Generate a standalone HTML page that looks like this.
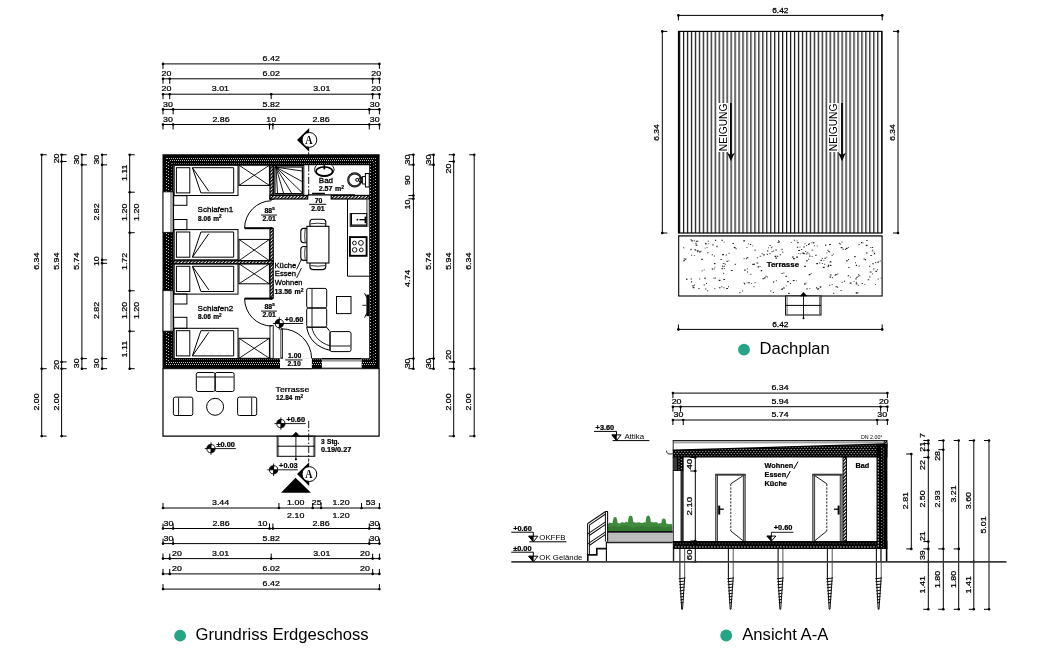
<!DOCTYPE html>
<html lang="de"><head><meta charset="utf-8"><title>Grundriss</title>
<style>
html,body{margin:0;padding:0;background:#fff;}
body{width:1038px;height:648px;overflow:hidden;}
svg{display:block;will-change:transform;}
svg text{font-family:"Liberation Sans",sans-serif;fill:#000;}
svg text.t{font-family:"Liberation Sans",sans-serif;fill:#111;}
svg text.s{font-family:"Liberation Serif",serif;}
</style></head><body>
<svg width="1038" height="648" viewBox="0 0 1038 648">
<defs>
<pattern id="hatch" width="2.4" height="2.4" patternUnits="userSpaceOnUse" patternTransform="rotate(-45)"><rect width="2.4" height="2.4" fill="#fff"/><rect width="2.4" height="1.3" fill="#000"/></pattern>
<pattern id="roof" x="678.98" width="3.964" height="10" patternUnits="userSpaceOnUse"><rect width="3.964" height="10" fill="#fff"/><rect x="0" width="1.25" height="10" fill="#151515"/></pattern>
</defs>
<rect width="1038" height="648" fill="#fff"/>
<g id="grundriss">
<line x1="163" y1="63.9" x2="379.4" y2="63.9" stroke="#000" stroke-width="1" />
<line x1="163" y1="63" x2="163" y2="68.9" stroke="#000" stroke-width="1" />
<circle cx="163" cy="63.9" r="1.3"/>
<line x1="379.4" y1="63" x2="379.4" y2="68.9" stroke="#000" stroke-width="1" />
<circle cx="379.4" cy="63.9" r="1.3"/>
<text transform="translate(271.2 61.1) scale(1.12 1)" font-size="7.9" text-anchor="middle" stroke="#000" stroke-width="0.25" >6.42</text>
<line x1="163" y1="78.8" x2="379.4" y2="78.8" stroke="#000" stroke-width="1" />
<line x1="163" y1="77.9" x2="163" y2="83.8" stroke="#000" stroke-width="1" />
<circle cx="163" cy="78.8" r="1.3"/>
<line x1="169.74" y1="77.9" x2="169.74" y2="83.8" stroke="#000" stroke-width="1" />
<circle cx="169.74" cy="78.8" r="1.3"/>
<line x1="372.66" y1="77.9" x2="372.66" y2="83.8" stroke="#000" stroke-width="1" />
<circle cx="372.66" cy="78.8" r="1.3"/>
<line x1="379.4" y1="77.9" x2="379.4" y2="83.8" stroke="#000" stroke-width="1" />
<circle cx="379.4" cy="78.8" r="1.3"/>
<text transform="translate(166.4 76) scale(1.12 1)" font-size="7.9" text-anchor="middle" stroke="#000" stroke-width="0.25" >20</text>
<text transform="translate(271.2 76) scale(1.12 1)" font-size="7.9" text-anchor="middle" stroke="#000" stroke-width="0.25" >6.02</text>
<text transform="translate(376.2 76) scale(1.12 1)" font-size="7.9" text-anchor="middle" stroke="#000" stroke-width="0.25" >20</text>
<line x1="163" y1="94.2" x2="379.4" y2="94.2" stroke="#000" stroke-width="1" />
<line x1="163" y1="93.3" x2="163" y2="99.2" stroke="#000" stroke-width="1" />
<circle cx="163" cy="94.2" r="1.3"/>
<line x1="169.74" y1="93.3" x2="169.74" y2="99.2" stroke="#000" stroke-width="1" />
<circle cx="169.74" cy="94.2" r="1.3"/>
<line x1="271.2" y1="93.3" x2="271.2" y2="99.2" stroke="#000" stroke-width="1" />
<circle cx="271.2" cy="94.2" r="1.3"/>
<line x1="372.66" y1="93.3" x2="372.66" y2="99.2" stroke="#000" stroke-width="1" />
<circle cx="372.66" cy="94.2" r="1.3"/>
<line x1="379.4" y1="93.3" x2="379.4" y2="99.2" stroke="#000" stroke-width="1" />
<circle cx="379.4" cy="94.2" r="1.3"/>
<text transform="translate(166.4 91.4) scale(1.12 1)" font-size="7.9" text-anchor="middle" stroke="#000" stroke-width="0.25" >20</text>
<text transform="translate(220.4 91.4) scale(1.12 1)" font-size="7.9" text-anchor="middle" stroke="#000" stroke-width="0.25" >3.01</text>
<text transform="translate(321.8 91.4) scale(1.12 1)" font-size="7.9" text-anchor="middle" stroke="#000" stroke-width="0.25" >3.01</text>
<text transform="translate(376.2 91.4) scale(1.12 1)" font-size="7.9" text-anchor="middle" stroke="#000" stroke-width="0.25" >20</text>
<line x1="163" y1="109.4" x2="379.4" y2="109.4" stroke="#000" stroke-width="1" />
<line x1="163" y1="108.5" x2="163" y2="114.4" stroke="#000" stroke-width="1" />
<circle cx="163" cy="109.4" r="1.3"/>
<line x1="173.11" y1="108.5" x2="173.11" y2="114.4" stroke="#000" stroke-width="1" />
<circle cx="173.11" cy="109.4" r="1.3"/>
<line x1="369.29" y1="108.5" x2="369.29" y2="114.4" stroke="#000" stroke-width="1" />
<circle cx="369.29" cy="109.4" r="1.3"/>
<line x1="379.4" y1="108.5" x2="379.4" y2="114.4" stroke="#000" stroke-width="1" />
<circle cx="379.4" cy="109.4" r="1.3"/>
<text transform="translate(168 106.6) scale(1.12 1)" font-size="7.9" text-anchor="middle" stroke="#000" stroke-width="0.25" >30</text>
<text transform="translate(271.2 106.6) scale(1.12 1)" font-size="7.9" text-anchor="middle" stroke="#000" stroke-width="0.25" >5.82</text>
<text transform="translate(374.7 106.6) scale(1.12 1)" font-size="7.9" text-anchor="middle" stroke="#000" stroke-width="0.25" >30</text>
<line x1="163" y1="124.5" x2="379.4" y2="124.5" stroke="#000" stroke-width="1" />
<line x1="163" y1="123.6" x2="163" y2="129.5" stroke="#000" stroke-width="1" />
<circle cx="163" cy="124.5" r="1.3"/>
<line x1="173.11" y1="123.6" x2="173.11" y2="129.5" stroke="#000" stroke-width="1" />
<circle cx="173.11" cy="124.5" r="1.3"/>
<line x1="269.51" y1="123.6" x2="269.51" y2="129.5" stroke="#000" stroke-width="1" />
<circle cx="269.51" cy="124.5" r="1.3"/>
<line x1="272.89" y1="123.6" x2="272.89" y2="129.5" stroke="#000" stroke-width="1" />
<circle cx="272.89" cy="124.5" r="1.3"/>
<line x1="369.29" y1="123.6" x2="369.29" y2="129.5" stroke="#000" stroke-width="1" />
<circle cx="369.29" cy="124.5" r="1.3"/>
<line x1="379.4" y1="123.6" x2="379.4" y2="129.5" stroke="#000" stroke-width="1" />
<circle cx="379.4" cy="124.5" r="1.3"/>
<text transform="translate(168 121.7) scale(1.12 1)" font-size="7.9" text-anchor="middle" stroke="#000" stroke-width="0.25" >30</text>
<text transform="translate(221 121.7) scale(1.12 1)" font-size="7.9" text-anchor="middle" stroke="#000" stroke-width="0.25" >2.86</text>
<text transform="translate(271.2 121.7) scale(1.12 1)" font-size="7.9" text-anchor="middle" stroke="#000" stroke-width="0.25" >10</text>
<text transform="translate(321 121.7) scale(1.12 1)" font-size="7.9" text-anchor="middle" stroke="#000" stroke-width="0.25" >2.86</text>
<text transform="translate(374.7 121.7) scale(1.12 1)" font-size="7.9" text-anchor="middle" stroke="#000" stroke-width="0.25" >30</text>
<line x1="163" y1="508" x2="379.4" y2="508" stroke="#000" stroke-width="1" />
<line x1="163" y1="508.9" x2="163" y2="503" stroke="#000" stroke-width="1" />
<circle cx="163" cy="508" r="1.3"/>
<line x1="278.95" y1="508.9" x2="278.95" y2="503" stroke="#000" stroke-width="1" />
<circle cx="278.95" cy="508" r="1.3"/>
<line x1="312.66" y1="508.9" x2="312.66" y2="503" stroke="#000" stroke-width="1" />
<circle cx="312.66" cy="508" r="1.3"/>
<line x1="321.09" y1="508.9" x2="321.09" y2="503" stroke="#000" stroke-width="1" />
<circle cx="321.09" cy="508" r="1.3"/>
<line x1="361.54" y1="508.9" x2="361.54" y2="503" stroke="#000" stroke-width="1" />
<circle cx="361.54" cy="508" r="1.3"/>
<line x1="379.4" y1="508.9" x2="379.4" y2="503" stroke="#000" stroke-width="1" />
<circle cx="379.4" cy="508" r="1.3"/>
<text transform="translate(220.6 505.2) scale(1.12 1)" font-size="7.9" text-anchor="middle" stroke="#000" stroke-width="0.25" >3.44</text>
<text transform="translate(295.7 505.2) scale(1.12 1)" font-size="7.9" text-anchor="middle" stroke="#000" stroke-width="0.25" >1.00</text>
<text transform="translate(316.7 505.2) scale(1.12 1)" font-size="7.9" text-anchor="middle" stroke="#000" stroke-width="0.25" >25</text>
<text transform="translate(341 505.2) scale(1.12 1)" font-size="7.9" text-anchor="middle" stroke="#000" stroke-width="0.25" >1.20</text>
<text transform="translate(370.6 505.2) scale(1.12 1)" font-size="7.9" text-anchor="middle" stroke="#000" stroke-width="0.25" >53</text>
<text transform="translate(295.7 517.6) scale(1.12 1)" font-size="7.9" text-anchor="middle" stroke="#000" stroke-width="0.25" >2.10</text>
<text transform="translate(341 517.6) scale(1.12 1)" font-size="7.9" text-anchor="middle" stroke="#000" stroke-width="0.25" >1.20</text>
<line x1="163" y1="528.5" x2="379.4" y2="528.5" stroke="#000" stroke-width="1" />
<line x1="163" y1="529.4" x2="163" y2="523.5" stroke="#000" stroke-width="1" />
<circle cx="163" cy="528.5" r="1.3"/>
<line x1="173.11" y1="529.4" x2="173.11" y2="523.5" stroke="#000" stroke-width="1" />
<circle cx="173.11" cy="528.5" r="1.3"/>
<line x1="269.51" y1="529.4" x2="269.51" y2="523.5" stroke="#000" stroke-width="1" />
<circle cx="269.51" cy="528.5" r="1.3"/>
<line x1="272.89" y1="529.4" x2="272.89" y2="523.5" stroke="#000" stroke-width="1" />
<circle cx="272.89" cy="528.5" r="1.3"/>
<line x1="369.29" y1="529.4" x2="369.29" y2="523.5" stroke="#000" stroke-width="1" />
<circle cx="369.29" cy="528.5" r="1.3"/>
<line x1="379.4" y1="529.4" x2="379.4" y2="523.5" stroke="#000" stroke-width="1" />
<circle cx="379.4" cy="528.5" r="1.3"/>
<text transform="translate(168.4 525.7) scale(1.12 1)" font-size="7.9" text-anchor="middle" stroke="#000" stroke-width="0.25" >30</text>
<text transform="translate(221 525.7) scale(1.12 1)" font-size="7.9" text-anchor="middle" stroke="#000" stroke-width="0.25" >2.86</text>
<text transform="translate(262.6 525.7) scale(1.12 1)" font-size="7.9" text-anchor="middle" stroke="#000" stroke-width="0.25" >10</text>
<text transform="translate(321 525.7) scale(1.12 1)" font-size="7.9" text-anchor="middle" stroke="#000" stroke-width="0.25" >2.86</text>
<text transform="translate(374.5 525.7) scale(1.12 1)" font-size="7.9" text-anchor="middle" stroke="#000" stroke-width="0.25" >30</text>
<line x1="163" y1="543.6" x2="379.4" y2="543.6" stroke="#000" stroke-width="1" />
<line x1="163" y1="544.5" x2="163" y2="538.6" stroke="#000" stroke-width="1" />
<circle cx="163" cy="543.6" r="1.3"/>
<line x1="173.11" y1="544.5" x2="173.11" y2="538.6" stroke="#000" stroke-width="1" />
<circle cx="173.11" cy="543.6" r="1.3"/>
<line x1="369.29" y1="544.5" x2="369.29" y2="538.6" stroke="#000" stroke-width="1" />
<circle cx="369.29" cy="543.6" r="1.3"/>
<line x1="379.4" y1="544.5" x2="379.4" y2="538.6" stroke="#000" stroke-width="1" />
<circle cx="379.4" cy="543.6" r="1.3"/>
<text transform="translate(168.4 540.8) scale(1.12 1)" font-size="7.9" text-anchor="middle" stroke="#000" stroke-width="0.25" >30</text>
<text transform="translate(271.2 540.8) scale(1.12 1)" font-size="7.9" text-anchor="middle" stroke="#000" stroke-width="0.25" >5.82</text>
<text transform="translate(374.5 540.8) scale(1.12 1)" font-size="7.9" text-anchor="middle" stroke="#000" stroke-width="0.25" >30</text>
<line x1="163" y1="558.6" x2="379.4" y2="558.6" stroke="#000" stroke-width="1" />
<line x1="163" y1="559.5" x2="163" y2="553.6" stroke="#000" stroke-width="1" />
<circle cx="163" cy="558.6" r="1.3"/>
<line x1="169.74" y1="559.5" x2="169.74" y2="553.6" stroke="#000" stroke-width="1" />
<circle cx="169.74" cy="558.6" r="1.3"/>
<line x1="271.2" y1="559.5" x2="271.2" y2="553.6" stroke="#000" stroke-width="1" />
<circle cx="271.2" cy="558.6" r="1.3"/>
<line x1="372.66" y1="559.5" x2="372.66" y2="553.6" stroke="#000" stroke-width="1" />
<circle cx="372.66" cy="558.6" r="1.3"/>
<line x1="379.4" y1="559.5" x2="379.4" y2="553.6" stroke="#000" stroke-width="1" />
<circle cx="379.4" cy="558.6" r="1.3"/>
<text transform="translate(177 555.8) scale(1.12 1)" font-size="7.9" text-anchor="middle" stroke="#000" stroke-width="0.25" >20</text>
<text transform="translate(220.6 555.8) scale(1.12 1)" font-size="7.9" text-anchor="middle" stroke="#000" stroke-width="0.25" >3.01</text>
<text transform="translate(321.8 555.8) scale(1.12 1)" font-size="7.9" text-anchor="middle" stroke="#000" stroke-width="0.25" >3.01</text>
<text transform="translate(365 555.8) scale(1.12 1)" font-size="7.9" text-anchor="middle" stroke="#000" stroke-width="0.25" >20</text>
<line x1="163" y1="573.9" x2="379.4" y2="573.9" stroke="#000" stroke-width="1" />
<line x1="163" y1="574.8" x2="163" y2="568.9" stroke="#000" stroke-width="1" />
<circle cx="163" cy="573.9" r="1.3"/>
<line x1="169.74" y1="574.8" x2="169.74" y2="568.9" stroke="#000" stroke-width="1" />
<circle cx="169.74" cy="573.9" r="1.3"/>
<line x1="372.66" y1="574.8" x2="372.66" y2="568.9" stroke="#000" stroke-width="1" />
<circle cx="372.66" cy="573.9" r="1.3"/>
<line x1="379.4" y1="574.8" x2="379.4" y2="568.9" stroke="#000" stroke-width="1" />
<circle cx="379.4" cy="573.9" r="1.3"/>
<text transform="translate(177 571.1) scale(1.12 1)" font-size="7.9" text-anchor="middle" stroke="#000" stroke-width="0.25" >20</text>
<text transform="translate(271.2 571.1) scale(1.12 1)" font-size="7.9" text-anchor="middle" stroke="#000" stroke-width="0.25" >6.02</text>
<text transform="translate(365 571.1) scale(1.12 1)" font-size="7.9" text-anchor="middle" stroke="#000" stroke-width="0.25" >20</text>
<line x1="163" y1="589.1" x2="379.4" y2="589.1" stroke="#000" stroke-width="1" />
<line x1="163" y1="590" x2="163" y2="584.1" stroke="#000" stroke-width="1" />
<circle cx="163" cy="589.1" r="1.3"/>
<line x1="379.4" y1="590" x2="379.4" y2="584.1" stroke="#000" stroke-width="1" />
<circle cx="379.4" cy="589.1" r="1.3"/>
<text transform="translate(271.2 586.3) scale(1.12 1)" font-size="7.9" text-anchor="middle" stroke="#000" stroke-width="0.25" >6.42</text>
<line x1="41.7" y1="154.75" x2="41.7" y2="436.1" stroke="#000" stroke-width="1" />
<line x1="40.8" y1="154.75" x2="46.7" y2="154.75" stroke="#000" stroke-width="1" />
<circle cx="41.7" cy="154.75" r="1.3"/>
<line x1="40.8" y1="368.7" x2="46.7" y2="368.7" stroke="#000" stroke-width="1" />
<circle cx="41.7" cy="368.7" r="1.3"/>
<line x1="40.8" y1="436.1" x2="46.7" y2="436.1" stroke="#000" stroke-width="1" />
<circle cx="41.7" cy="436.1" r="1.3"/>
<text transform="translate(38.7 261.2) rotate(-90) scale(1.12 1)" font-size="7.9" text-anchor="middle" stroke="#000" stroke-width="0.25" >6.34</text>
<text transform="translate(38.7 402) rotate(-90) scale(1.12 1)" font-size="7.9" text-anchor="middle" stroke="#000" stroke-width="0.25" >2.00</text>
<line x1="61.6" y1="154.75" x2="61.6" y2="436.1" stroke="#000" stroke-width="1" />
<line x1="60.7" y1="154.75" x2="66.6" y2="154.75" stroke="#000" stroke-width="1" />
<circle cx="61.6" cy="154.75" r="1.3"/>
<line x1="60.7" y1="161.5" x2="66.6" y2="161.5" stroke="#000" stroke-width="1" />
<circle cx="61.6" cy="161.5" r="1.3"/>
<line x1="60.7" y1="361.95" x2="66.6" y2="361.95" stroke="#000" stroke-width="1" />
<circle cx="61.6" cy="361.95" r="1.3"/>
<line x1="60.7" y1="368.7" x2="66.6" y2="368.7" stroke="#000" stroke-width="1" />
<circle cx="61.6" cy="368.7" r="1.3"/>
<line x1="60.7" y1="436.1" x2="66.6" y2="436.1" stroke="#000" stroke-width="1" />
<circle cx="61.6" cy="436.1" r="1.3"/>
<text transform="translate(58.6 158.4) rotate(-90) scale(1.12 1)" font-size="7.9" text-anchor="middle" stroke="#000" stroke-width="0.25" >20</text>
<text transform="translate(58.6 261.2) rotate(-90) scale(1.12 1)" font-size="7.9" text-anchor="middle" stroke="#000" stroke-width="0.25" >5.94</text>
<text transform="translate(58.6 364.8) rotate(-90) scale(1.12 1)" font-size="7.9" text-anchor="middle" stroke="#000" stroke-width="0.25" >20</text>
<text transform="translate(58.6 402) rotate(-90) scale(1.12 1)" font-size="7.9" text-anchor="middle" stroke="#000" stroke-width="0.25" >2.00</text>
<line x1="81.9" y1="154.75" x2="81.9" y2="368.7" stroke="#000" stroke-width="1" />
<line x1="81" y1="154.75" x2="86.9" y2="154.75" stroke="#000" stroke-width="1" />
<circle cx="81.9" cy="154.75" r="1.3"/>
<line x1="81" y1="164.87" x2="86.9" y2="164.87" stroke="#000" stroke-width="1" />
<circle cx="81.9" cy="164.87" r="1.3"/>
<line x1="81" y1="358.58" x2="86.9" y2="358.58" stroke="#000" stroke-width="1" />
<circle cx="81.9" cy="358.58" r="1.3"/>
<line x1="81" y1="368.7" x2="86.9" y2="368.7" stroke="#000" stroke-width="1" />
<circle cx="81.9" cy="368.7" r="1.3"/>
<text transform="translate(78.9 159.7) rotate(-90) scale(1.12 1)" font-size="7.9" text-anchor="middle" stroke="#000" stroke-width="0.25" >30</text>
<text transform="translate(78.9 261.2) rotate(-90) scale(1.12 1)" font-size="7.9" text-anchor="middle" stroke="#000" stroke-width="0.25" >5.74</text>
<text transform="translate(78.9 363.3) rotate(-90) scale(1.12 1)" font-size="7.9" text-anchor="middle" stroke="#000" stroke-width="0.25" >30</text>
<line x1="102.1" y1="154.75" x2="102.1" y2="368.7" stroke="#000" stroke-width="1" />
<line x1="101.2" y1="154.75" x2="107.1" y2="154.75" stroke="#000" stroke-width="1" />
<circle cx="102.1" cy="154.75" r="1.3"/>
<line x1="101.2" y1="164.87" x2="107.1" y2="164.87" stroke="#000" stroke-width="1" />
<circle cx="102.1" cy="164.87" r="1.3"/>
<line x1="101.2" y1="259.9" x2="107.1" y2="259.9" stroke="#000" stroke-width="1" />
<circle cx="102.1" cy="259.9" r="1.3"/>
<line x1="101.2" y1="263.3" x2="107.1" y2="263.3" stroke="#000" stroke-width="1" />
<circle cx="102.1" cy="263.3" r="1.3"/>
<line x1="101.2" y1="358.58" x2="107.1" y2="358.58" stroke="#000" stroke-width="1" />
<circle cx="102.1" cy="358.58" r="1.3"/>
<line x1="101.2" y1="368.7" x2="107.1" y2="368.7" stroke="#000" stroke-width="1" />
<circle cx="102.1" cy="368.7" r="1.3"/>
<text transform="translate(99.1 159.7) rotate(-90) scale(1.12 1)" font-size="7.9" text-anchor="middle" stroke="#000" stroke-width="0.25" >30</text>
<text transform="translate(99.1 212) rotate(-90) scale(1.12 1)" font-size="7.9" text-anchor="middle" stroke="#000" stroke-width="0.25" >2.82</text>
<text transform="translate(99.1 261.2) rotate(-90) scale(1.12 1)" font-size="7.9" text-anchor="middle" stroke="#000" stroke-width="0.25" >10</text>
<text transform="translate(99.1 310.5) rotate(-90) scale(1.12 1)" font-size="7.9" text-anchor="middle" stroke="#000" stroke-width="0.25" >2.82</text>
<text transform="translate(99.1 363.3) rotate(-90) scale(1.12 1)" font-size="7.9" text-anchor="middle" stroke="#000" stroke-width="0.25" >30</text>
<line x1="129.7" y1="154.75" x2="129.7" y2="368.7" stroke="#000" stroke-width="1" />
<line x1="128.8" y1="154.75" x2="134.7" y2="154.75" stroke="#000" stroke-width="1" />
<circle cx="129.7" cy="154.75" r="1.3"/>
<line x1="128.8" y1="192.21" x2="134.7" y2="192.21" stroke="#000" stroke-width="1" />
<circle cx="129.7" cy="192.21" r="1.3"/>
<line x1="128.8" y1="232.7" x2="134.7" y2="232.7" stroke="#000" stroke-width="1" />
<circle cx="129.7" cy="232.7" r="1.3"/>
<line x1="128.8" y1="290.75" x2="134.7" y2="290.75" stroke="#000" stroke-width="1" />
<circle cx="129.7" cy="290.75" r="1.3"/>
<line x1="128.8" y1="331.24" x2="134.7" y2="331.24" stroke="#000" stroke-width="1" />
<circle cx="129.7" cy="331.24" r="1.3"/>
<line x1="128.8" y1="368.7" x2="134.7" y2="368.7" stroke="#000" stroke-width="1" />
<circle cx="129.7" cy="368.7" r="1.3"/>
<text transform="translate(126.7 172.8) rotate(-90) scale(1.12 1)" font-size="7.9" text-anchor="middle" stroke="#000" stroke-width="0.25" >1.11</text>
<text transform="translate(126.7 212.3) rotate(-90) scale(1.12 1)" font-size="7.9" text-anchor="middle" stroke="#000" stroke-width="0.25" >1.20</text>
<text transform="translate(126.7 261.4) rotate(-90) scale(1.12 1)" font-size="7.9" text-anchor="middle" stroke="#000" stroke-width="0.25" >1.72</text>
<text transform="translate(126.7 310.5) rotate(-90) scale(1.12 1)" font-size="7.9" text-anchor="middle" stroke="#000" stroke-width="0.25" >1.20</text>
<text transform="translate(126.7 349.2) rotate(-90) scale(1.12 1)" font-size="7.9" text-anchor="middle" stroke="#000" stroke-width="0.25" >1.11</text>
<text transform="translate(138.7 212.3) rotate(-90) scale(1.12 1)" font-size="7.9" text-anchor="middle" stroke="#000" stroke-width="0.25" >1.20</text>
<text transform="translate(138.7 310.5) rotate(-90) scale(1.12 1)" font-size="7.9" text-anchor="middle" stroke="#000" stroke-width="0.25" >1.20</text>
<line x1="413.4" y1="154.75" x2="413.4" y2="368.7" stroke="#000" stroke-width="1" />
<line x1="414.3" y1="154.75" x2="408.4" y2="154.75" stroke="#000" stroke-width="1" />
<circle cx="413.4" cy="154.75" r="1.3"/>
<line x1="414.3" y1="164.87" x2="408.4" y2="164.87" stroke="#000" stroke-width="1" />
<circle cx="413.4" cy="164.87" r="1.3"/>
<line x1="414.3" y1="195.6" x2="408.4" y2="195.6" stroke="#000" stroke-width="1" />
<circle cx="413.4" cy="195.6" r="1.3"/>
<line x1="414.3" y1="198.8" x2="408.4" y2="198.8" stroke="#000" stroke-width="1" />
<circle cx="413.4" cy="198.8" r="1.3"/>
<line x1="414.3" y1="358.58" x2="408.4" y2="358.58" stroke="#000" stroke-width="1" />
<circle cx="413.4" cy="358.58" r="1.3"/>
<line x1="414.3" y1="368.7" x2="408.4" y2="368.7" stroke="#000" stroke-width="1" />
<circle cx="413.4" cy="368.7" r="1.3"/>
<text transform="translate(410.4 159.6) rotate(-90) scale(1.12 1)" font-size="7.9" text-anchor="middle" stroke="#000" stroke-width="0.25" >30</text>
<text transform="translate(410.4 180.2) rotate(-90) scale(1.12 1)" font-size="7.9" text-anchor="middle" stroke="#000" stroke-width="0.25" >90</text>
<text transform="translate(410.4 204.5) rotate(-90) scale(1.12 1)" font-size="7.9" text-anchor="middle" stroke="#000" stroke-width="0.25" >10</text>
<text transform="translate(410.4 278.4) rotate(-90) scale(1.12 1)" font-size="7.9" text-anchor="middle" stroke="#000" stroke-width="0.25" >4.74</text>
<text transform="translate(410.4 363.4) rotate(-90) scale(1.12 1)" font-size="7.9" text-anchor="middle" stroke="#000" stroke-width="0.25" >30</text>
<line x1="433.6" y1="154.75" x2="433.6" y2="368.7" stroke="#000" stroke-width="1" />
<line x1="434.5" y1="154.75" x2="428.6" y2="154.75" stroke="#000" stroke-width="1" />
<circle cx="433.6" cy="154.75" r="1.3"/>
<line x1="434.5" y1="164.87" x2="428.6" y2="164.87" stroke="#000" stroke-width="1" />
<circle cx="433.6" cy="164.87" r="1.3"/>
<line x1="434.5" y1="358.58" x2="428.6" y2="358.58" stroke="#000" stroke-width="1" />
<circle cx="433.6" cy="358.58" r="1.3"/>
<line x1="434.5" y1="368.7" x2="428.6" y2="368.7" stroke="#000" stroke-width="1" />
<circle cx="433.6" cy="368.7" r="1.3"/>
<text transform="translate(430.6 159.6) rotate(-90) scale(1.12 1)" font-size="7.9" text-anchor="middle" stroke="#000" stroke-width="0.25" >30</text>
<text transform="translate(430.6 261.2) rotate(-90) scale(1.12 1)" font-size="7.9" text-anchor="middle" stroke="#000" stroke-width="0.25" >5.74</text>
<text transform="translate(430.6 363.4) rotate(-90) scale(1.12 1)" font-size="7.9" text-anchor="middle" stroke="#000" stroke-width="0.25" >30</text>
<line x1="453.7" y1="154.75" x2="453.7" y2="436.1" stroke="#000" stroke-width="1" />
<line x1="454.6" y1="154.75" x2="448.7" y2="154.75" stroke="#000" stroke-width="1" />
<circle cx="453.7" cy="154.75" r="1.3"/>
<line x1="454.6" y1="161.5" x2="448.7" y2="161.5" stroke="#000" stroke-width="1" />
<circle cx="453.7" cy="161.5" r="1.3"/>
<line x1="454.6" y1="361.95" x2="448.7" y2="361.95" stroke="#000" stroke-width="1" />
<circle cx="453.7" cy="361.95" r="1.3"/>
<line x1="454.6" y1="368.7" x2="448.7" y2="368.7" stroke="#000" stroke-width="1" />
<circle cx="453.7" cy="368.7" r="1.3"/>
<line x1="454.6" y1="436.1" x2="448.7" y2="436.1" stroke="#000" stroke-width="1" />
<circle cx="453.7" cy="436.1" r="1.3"/>
<text transform="translate(450.7 168.6) rotate(-90) scale(1.12 1)" font-size="7.9" text-anchor="middle" stroke="#000" stroke-width="0.25" >20</text>
<text transform="translate(450.7 261.2) rotate(-90) scale(1.12 1)" font-size="7.9" text-anchor="middle" stroke="#000" stroke-width="0.25" >5.94</text>
<text transform="translate(450.7 354.8) rotate(-90) scale(1.12 1)" font-size="7.9" text-anchor="middle" stroke="#000" stroke-width="0.25" >20</text>
<text transform="translate(450.7 402) rotate(-90) scale(1.12 1)" font-size="7.9" text-anchor="middle" stroke="#000" stroke-width="0.25" >2.00</text>
<line x1="474.2" y1="154.75" x2="474.2" y2="436.1" stroke="#000" stroke-width="1" />
<line x1="475.1" y1="154.75" x2="469.2" y2="154.75" stroke="#000" stroke-width="1" />
<circle cx="474.2" cy="154.75" r="1.3"/>
<line x1="475.1" y1="368.7" x2="469.2" y2="368.7" stroke="#000" stroke-width="1" />
<circle cx="474.2" cy="368.7" r="1.3"/>
<line x1="475.1" y1="436.1" x2="469.2" y2="436.1" stroke="#000" stroke-width="1" />
<circle cx="474.2" cy="436.1" r="1.3"/>
<text transform="translate(471.2 261.2) rotate(-90) scale(1.12 1)" font-size="7.9" text-anchor="middle" stroke="#000" stroke-width="0.25" >6.34</text>
<text transform="translate(471.2 402) rotate(-90) scale(1.12 1)" font-size="7.9" text-anchor="middle" stroke="#000" stroke-width="0.25" >2.00</text>
<path d="M163.0 368.4 V436.2 H379.1 V368.4" fill="none" stroke="#000" stroke-width="1.2" />
<line x1="162.5" y1="368.7" x2="379.6" y2="368.7" stroke="#000" stroke-width="1" />
<path fill-rule="evenodd" fill="#000" d="M162.5 154.3H379.6V368.4H162.5Z M173.7 165.2V358.3H369.2V165.2Z"/>
<line x1="167" y1="158.5" x2="375" y2="158.5" stroke="#b8b8b8" stroke-width="1" stroke-dasharray="1 1" stroke-dashoffset="0"/>
<line x1="169" y1="160.5" x2="373" y2="160.5" stroke="#b8b8b8" stroke-width="1" stroke-dasharray="1 1" stroke-dashoffset="1"/>
<line x1="172" y1="163.5" x2="370" y2="163.5" stroke="#6a6a6a" stroke-width="1" stroke-dasharray="1 1" stroke-dashoffset="0"/>
<line x1="166" y1="364.5" x2="376" y2="364.5" stroke="#b8b8b8" stroke-width="1" stroke-dasharray="1 1" stroke-dashoffset="0"/>
<line x1="168" y1="362.5" x2="374" y2="362.5" stroke="#b8b8b8" stroke-width="1" stroke-dasharray="1 1" stroke-dashoffset="1"/>
<line x1="171" y1="359.6" x2="371" y2="359.6" stroke="#6a6a6a" stroke-width="1" stroke-dasharray="1 1" stroke-dashoffset="0"/>
<line x1="166.5" y1="158" x2="166.5" y2="364" stroke="#b8b8b8" stroke-width="1" stroke-dasharray="1 2" stroke-dashoffset="0"/>
<line x1="168.5" y1="160" x2="168.5" y2="362" stroke="#b8b8b8" stroke-width="1" stroke-dasharray="1 2" stroke-dashoffset="1"/>
<line x1="171.5" y1="163" x2="171.5" y2="359" stroke="#6a6a6a" stroke-width="1" stroke-dasharray="1 2" stroke-dashoffset="0"/>
<line x1="375.5" y1="158" x2="375.5" y2="364" stroke="#b8b8b8" stroke-width="1" stroke-dasharray="1 2" stroke-dashoffset="0"/>
<line x1="373.5" y1="160" x2="373.5" y2="362" stroke="#6a6a6a" stroke-width="1" stroke-dasharray="1 2" stroke-dashoffset="1"/>
<line x1="370.5" y1="163" x2="370.5" y2="359" stroke="#b8b8b8" stroke-width="1" stroke-dasharray="1 2" stroke-dashoffset="0"/>
<rect x="162.5" y="191.84" width="11.4" height="40.58" fill="#fff" stroke="none" stroke-width="0" />
<line x1="163" y1="191.84" x2="163" y2="232.42" stroke="#000" stroke-width="1" />
<line x1="171" y1="191.84" x2="171" y2="232.42" stroke="#333" stroke-width="0.9" />
<line x1="173.3" y1="191.84" x2="173.3" y2="232.42" stroke="#000" stroke-width="1.4" />
<line x1="162.5" y1="191.84" x2="173.7" y2="191.84" stroke="#000" stroke-width="0.8" />
<line x1="162.5" y1="232.42" x2="173.7" y2="232.42" stroke="#000" stroke-width="0.8" />
<rect x="162.5" y="290.58" width="11.4" height="40.58" fill="#fff" stroke="none" stroke-width="0" />
<line x1="163" y1="290.58" x2="163" y2="331.16" stroke="#000" stroke-width="1" />
<line x1="171" y1="290.58" x2="171" y2="331.16" stroke="#333" stroke-width="0.9" />
<line x1="173.3" y1="290.58" x2="173.3" y2="331.16" stroke="#000" stroke-width="1.4" />
<line x1="162.5" y1="290.58" x2="173.7" y2="290.58" stroke="#000" stroke-width="0.8" />
<line x1="162.5" y1="331.16" x2="173.7" y2="331.16" stroke="#000" stroke-width="0.8" />
<rect x="280.03" y="358.1" width="31.82" height="10.5" fill="#fff" stroke="none" stroke-width="0" />
<rect x="321.9" y="358.1" width="39.78" height="10.5" fill="#fff" stroke="none" stroke-width="0" />
<line x1="321.9" y1="358.7" x2="361.68" y2="358.7" stroke="#000" stroke-width="1.5" />
<line x1="321.9" y1="360.9" x2="361.68" y2="360.9" stroke="#333" stroke-width="0.8" />
<line x1="321.9" y1="368.2" x2="361.68" y2="368.2" stroke="#000" stroke-width="1" />
<line x1="280.03" y1="368.7" x2="311.84" y2="368.7" stroke="#000" stroke-width="1" />
<rect x="270" y="165.2" width="3.2" height="34" fill="url(#hatch)" stroke="#000" stroke-width="1.2" />
<rect x="270" y="195.4" width="37.7" height="3.6" fill="url(#hatch)" stroke="#000" stroke-width="1.2" />
<rect x="331.2" y="195.4" width="38" height="3.6" fill="url(#hatch)" stroke="#000" stroke-width="1.2" />
<rect x="270" y="228.4" width="3.2" height="69.8" fill="url(#hatch)" stroke="#000" stroke-width="1.2" />
<rect x="173.7" y="260.7" width="99.5" height="3.1" fill="url(#hatch)" stroke="#000" stroke-width="1.2" />
<rect x="270" y="325.6" width="3.2" height="32.7" fill="#fff" stroke="#000" stroke-width="0.9" />
<rect x="174.2" y="165.3" width="63.8" height="30.2" fill="none" stroke="#000" stroke-width="1" />
<rect x="176.4" y="167.7" width="13.4" height="25.2" fill="none" stroke="#000" stroke-width="1" />
<path d="M192.4 167.7 H233.7 V192.9 H200.9 Z" fill="none" stroke="#000" stroke-width="1" />
<line x1="192.4" y1="167.7" x2="208.8" y2="191.3" stroke="#000" stroke-width="1" />
<rect x="174.2" y="229.6" width="63.8" height="30.2" fill="none" stroke="#000" stroke-width="1" />
<rect x="176.4" y="232" width="13.4" height="25.2" fill="none" stroke="#000" stroke-width="1" />
<path d="M192.4 257.2 H233.7 V232 H200.9 Z" fill="none" stroke="#000" stroke-width="1" />
<line x1="192.4" y1="257.2" x2="208.8" y2="233.6" stroke="#000" stroke-width="1" />
<rect x="174.2" y="263.9" width="63.8" height="30.2" fill="none" stroke="#000" stroke-width="1" />
<rect x="176.4" y="266.3" width="13.4" height="25.2" fill="none" stroke="#000" stroke-width="1" />
<path d="M192.4 266.3 H233.7 V291.5 H200.9 Z" fill="none" stroke="#000" stroke-width="1" />
<line x1="192.4" y1="266.3" x2="208.8" y2="289.9" stroke="#000" stroke-width="1" />
<rect x="174.2" y="328.3" width="63.8" height="30.2" fill="none" stroke="#000" stroke-width="1" />
<rect x="176.4" y="330.7" width="13.4" height="25.2" fill="none" stroke="#000" stroke-width="1" />
<path d="M192.4 355.9 H233.7 V330.7 H200.9 Z" fill="none" stroke="#000" stroke-width="1" />
<line x1="192.4" y1="355.9" x2="208.8" y2="332.3" stroke="#000" stroke-width="1" />
<rect x="239" y="165.2" width="30.4" height="20.2" fill="none" stroke="#000" stroke-width="1" />
<line x1="239" y1="165.2" x2="269.4" y2="185.4" stroke="#000" stroke-width="0.9" />
<line x1="239" y1="185.4" x2="269.4" y2="165.2" stroke="#000" stroke-width="0.9" />
<rect x="239" y="239.4" width="30.4" height="21.3" fill="none" stroke="#000" stroke-width="1" />
<line x1="239" y1="239.4" x2="269.4" y2="260.7" stroke="#000" stroke-width="0.9" />
<line x1="239" y1="260.7" x2="269.4" y2="239.4" stroke="#000" stroke-width="0.9" />
<rect x="239" y="263.8" width="30.4" height="20" fill="none" stroke="#000" stroke-width="1" />
<line x1="239" y1="263.8" x2="269.4" y2="283.8" stroke="#000" stroke-width="0.9" />
<line x1="239" y1="283.8" x2="269.4" y2="263.8" stroke="#000" stroke-width="0.9" />
<rect x="239" y="338.3" width="30.4" height="20" fill="none" stroke="#000" stroke-width="1" />
<line x1="239" y1="338.3" x2="269.4" y2="358.3" stroke="#000" stroke-width="0.9" />
<line x1="239" y1="358.3" x2="269.4" y2="338.3" stroke="#000" stroke-width="0.9" />
<rect x="173.7" y="195.7" width="13.2" height="9.6" fill="none" stroke="#000" stroke-width="1" />
<rect x="173.7" y="219.5" width="13.2" height="10.1" fill="none" stroke="#000" stroke-width="1" />
<rect x="173.7" y="294" width="13.2" height="10" fill="none" stroke="#000" stroke-width="1" />
<rect x="173.7" y="317.3" width="13.2" height="11" fill="none" stroke="#000" stroke-width="1" />
<line x1="244.6" y1="228.2" x2="271.5" y2="228.2" stroke="#000" stroke-width="2" />
<path d="M244.6 228.2 A27.5 27.5 0 0 1 271.6 200.7" fill="none" stroke="#000" stroke-width="1" />
<circle cx="271.6" cy="228.2" r="1.3" fill="#000" stroke="#000" stroke-width="0"/>
<line x1="244.6" y1="298.6" x2="271.5" y2="298.6" stroke="#000" stroke-width="2" />
<path d="M244.6 298.6 A27.5 27.5 0 0 0 271.6 326.1" fill="none" stroke="#000" stroke-width="1" />
<circle cx="271.6" cy="298.6" r="1.3" fill="#000" stroke="#000" stroke-width="0"/>
<rect x="280.9" y="328.8" width="1.6" height="29.5" fill="#fff" stroke="#000" stroke-width="0.8" />
<path d="M281.4 328.8 A30 30 0 0 1 311.6 358.3" fill="none" stroke="#000" stroke-width="1" />
<rect x="273.4" y="165.5" width="30.4" height="29.4" fill="none" stroke="#000" stroke-width="1" />
<rect x="274.9" y="167" width="27.5" height="26.6" fill="none" stroke="#000" stroke-width="1.2" />
<line x1="276" y1="167.2" x2="302" y2="171" stroke="#000" stroke-width="0.9" />
<line x1="276" y1="167.2" x2="302" y2="181.5" stroke="#000" stroke-width="0.9" />
<line x1="276" y1="167.2" x2="302" y2="192.5" stroke="#000" stroke-width="0.9" />
<line x1="276" y1="167.2" x2="291.5" y2="193" stroke="#000" stroke-width="0.9" />
<line x1="276" y1="167.2" x2="283.5" y2="193" stroke="#000" stroke-width="0.9" />
<line x1="276" y1="167.2" x2="277.5" y2="193" stroke="#000" stroke-width="0.9" />
<circle cx="276" cy="167.2" r="1.2" fill="#000" stroke="#000" stroke-width="0"/>
<line x1="308.7" y1="152" x2="308.7" y2="195.5" stroke="#000" stroke-width="0.9" stroke-dasharray="7 2 1.5 2"/>
<line x1="308.7" y1="421" x2="308.7" y2="463" stroke="#000" stroke-width="0.9" stroke-dasharray="7 2 1.5 2"/>
<clipPath id="cb"><rect x="300" y="165.2" width="80" height="40"/></clipPath>
<g clip-path="url(#cb)">
<ellipse cx="324.3" cy="169.6" rx="9.8" ry="7" fill="#fff" stroke="#000" stroke-width=".9"/>
<ellipse cx="324.3" cy="171.4" rx="8.3" ry="4.4" fill="none" stroke="#000" stroke-width="1.7"/>
</g>
<line x1="324.3" y1="165.2" x2="324.3" y2="169.4" stroke="#000" stroke-width="1.8" />
<rect x="365.4" y="173.5" width="3.8" height="13.5" fill="#fff" stroke="#000" stroke-width="1" />
<rect x="362.6" y="176.5" width="2.8" height="7.5" fill="#fff" stroke="#000" stroke-width="0.9" />
<circle cx="354.7" cy="179.9" r="6.5" fill="#fff" stroke="#000" stroke-width="2.1"/>
<circle cx="354.7" cy="179.9" r="6.5" fill="none" stroke="#999" stroke-width="0.5"/>
<circle cx="357.2" cy="179.9" r="1.5" fill="none" stroke="#000" stroke-width="1"/>
<path d="M362.4 178.1 A2.3 2.3 0 1 0 362.4 181.8" fill="none" stroke="#000" stroke-width="1.1" />
<line x1="307.7" y1="194.9" x2="331.2" y2="194.9" stroke="#000" stroke-width="1.3" />
<line x1="331.2" y1="194.6" x2="355" y2="194.6" stroke="#000" stroke-width="0.8" />
<line x1="312.1" y1="193.5" x2="324.9" y2="193.5" stroke="#000" stroke-width="1.5" />
<path d="M347.5 199 V276.2 H369.2" fill="none" stroke="#000" stroke-width="1" />
<line x1="366.9" y1="199.5" x2="366.9" y2="227" stroke="#333" stroke-width="0.9" />
<line x1="368.1" y1="199.5" x2="368.1" y2="227" stroke="#777" stroke-width="0.7" />
<rect x="350.2" y="213.6" width="16.5" height="12.7" fill="#fff" stroke="#000" stroke-width="1" />
<path d="M351.4 213.6 V225.2 H366.7" fill="none" stroke="#000" stroke-width="1.2" />
<line x1="359.4" y1="219.7" x2="365.6" y2="219.7" stroke="#000" stroke-width="1.3" />
<line x1="365.5" y1="216.6" x2="365.5" y2="223.2" stroke="#000" stroke-width="1.8" />
<circle cx="357.4" cy="219.7" r="0.9" fill="#000" stroke="#000" stroke-width="0"/>
<rect x="349.9" y="237.1" width="16.7" height="18.7" fill="none" stroke="#000" stroke-width="1.9" />
<circle cx="354.4" cy="243" r="1.9" fill="none" stroke="#000" stroke-width="0.9"/>
<circle cx="360.9" cy="242.9" r="2.4" fill="none" stroke="#000" stroke-width="0.9"/>
<circle cx="354.6" cy="249.9" r="2.3" fill="none" stroke="#000" stroke-width="0.9"/>
<circle cx="361.3" cy="249.9" r="1.9" fill="none" stroke="#000" stroke-width="0.9"/>
<rect x="300.8" y="228.4" width="8.2" height="14.4" rx="3" fill="#fff" stroke="#000" stroke-width="1.1" />
<path d="M305.2 229.0 Q304.2 235.60000000000002 305.2 242.20000000000002" fill="none" stroke="#000" stroke-width="0.8" />
<rect x="300.8" y="246.5" width="8.2" height="13.9" rx="3" fill="#fff" stroke="#000" stroke-width="1.1" />
<path d="M305.2 247.1 Q304.2 253.45 305.2 259.79999999999995" fill="none" stroke="#000" stroke-width="0.8" />
<rect x="309.9" y="219.3" width="15.9" height="8.7" rx="3" fill="#fff" stroke="#000" stroke-width="1.1" />
<path d="M310.6 223.8 Q317.8 222.60000000000002 325.2 223.8" fill="none" stroke="#000" stroke-width="0.8" />
<rect x="309.9" y="261" width="15.9" height="8.6" rx="3" fill="#fff" stroke="#000" stroke-width="1.1" />
<path d="M310.6 265.6 Q317.8 266.8 325.2 265.6" fill="none" stroke="#000" stroke-width="0.8" />
<rect x="306.9" y="226.3" width="22" height="36.7" fill="#fff" stroke="#000" stroke-width="1.1" />
<rect x="306.7" y="288.4" width="20" height="19.6" rx="1.8" fill="none" stroke="#000" stroke-width="1" />
<rect x="306.7" y="308" width="20" height="19.2" rx="1.8" fill="none" stroke="#000" stroke-width="1" />
<line x1="312" y1="289" x2="312" y2="326.6" stroke="#000" stroke-width="0.9" />
<path d="M306.7 327.2 H326.7 L330 331.6 V350.3 C317 347.5 308.5 339 306.7 327.2 Z" fill="none" stroke="#000" stroke-width="1" />
<path d="M311.8 327.2 C313.5 336 320 343 330 345.8" fill="none" stroke="#000" stroke-width="0.9" />
<rect x="330" y="331.6" width="21" height="20" rx="1.8" fill="none" stroke="#000" stroke-width="1" />
<line x1="330.6" y1="346" x2="350.4" y2="346" stroke="#000" stroke-width="0.9" />
<rect x="336.5" y="296.5" width="14.5" height="17.1" fill="none" stroke="#000" stroke-width="1" />
<line x1="367.7" y1="294.6" x2="367.7" y2="316.2" stroke="#000" stroke-width="2.6" />
<line x1="362.4" y1="305.3" x2="366.4" y2="305.3" stroke="#000" stroke-width="0.9" />
<line x1="364.6" y1="293.2" x2="366.8" y2="297.6" stroke="#000" stroke-width="1" />
<line x1="364.6" y1="317.6" x2="366.8" y2="313.2" stroke="#000" stroke-width="1" />
<rect x="196.3" y="372.5" width="18.8" height="19" rx="1.8" fill="none" stroke="#000" stroke-width="1" />
<rect x="215.1" y="372.5" width="19" height="19" rx="1.8" fill="none" stroke="#000" stroke-width="1" />
<line x1="196.8" y1="377" x2="233.6" y2="377" stroke="#000" stroke-width="0.9" />
<rect x="173.4" y="397.1" width="19.4" height="18.4" rx="1.8" fill="none" stroke="#000" stroke-width="1" />
<line x1="178.6" y1="397.6" x2="178.6" y2="415" stroke="#000" stroke-width="0.9" />
<rect x="237.6" y="397.1" width="19.1" height="18.4" rx="1.8" fill="none" stroke="#000" stroke-width="1" />
<line x1="251.7" y1="397.6" x2="251.7" y2="415" stroke="#000" stroke-width="0.9" />
<circle cx="215.1" cy="406.8" r="8.5" fill="none" stroke="#000" stroke-width="1"/>
<rect x="277.2" y="436.2" width="37.6" height="20.1" fill="none" stroke="#000" stroke-width="1" />
<line x1="278.6" y1="436.2" x2="278.6" y2="456.3" stroke="#555" stroke-width="0.8" />
<line x1="313.4" y1="436.2" x2="313.4" y2="456.3" stroke="#555" stroke-width="0.8" />
<line x1="277.2" y1="446.2" x2="314.8" y2="446.2" stroke="#000" stroke-width="1" />
<line x1="295.9" y1="459.3" x2="295.9" y2="435" stroke="#000" stroke-width="0.9" />
<circle cx="295.9" cy="459.3" r="1.1" fill="#000" stroke="#000" stroke-width="0"/>
<path d="M291.5 436.59999999999997 L295.9 431.8 L300.3 436.59999999999997 Z" fill="#000" stroke="#000" stroke-width="0" />
<circle cx="279.3" cy="323.5" r="4.1" fill="#fff" stroke="#000" stroke-width="0.9"/>
<path d="M279.3 323.5 L275.2 323.5 A4.1 4.1 0 0 1 279.3 319.4 Z M279.3 323.5 L283.4 323.5 A4.1 4.1 0 0 1 279.3 327.6 Z" fill="#000" stroke="#000" stroke-width="0" />
<line x1="273" y1="323.5" x2="303.2" y2="323.5" stroke="#000" stroke-width="0.9" />
<line x1="279.3" y1="317.3" x2="279.3" y2="329.7" stroke="#000" stroke-width="0.9" />
<text transform="translate(284.8 321.6) scale(1.15 1)" font-size="6.4" font-weight="bold" stroke="#000" stroke-width="0.22" >+0.60</text>
<circle cx="280.9" cy="423.6" r="4.1" fill="#fff" stroke="#000" stroke-width="0.9"/>
<path d="M280.9 423.6 L276.8 423.6 A4.1 4.1 0 0 1 280.9 419.5 Z M280.9 423.6 L285 423.6 A4.1 4.1 0 0 1 280.9 427.7 Z" fill="#000" stroke="#000" stroke-width="0" />
<line x1="274.6" y1="423.6" x2="305.8" y2="423.6" stroke="#000" stroke-width="0.9" />
<line x1="280.9" y1="417.4" x2="280.9" y2="429.8" stroke="#000" stroke-width="0.9" />
<text transform="translate(286.4 421.7) scale(1.15 1)" font-size="6.4" font-weight="bold" stroke="#000" stroke-width="0.22" >+0.60</text>
<circle cx="211" cy="448.6" r="4.1" fill="#fff" stroke="#000" stroke-width="0.9"/>
<path d="M211 448.6 L206.9 448.6 A4.1 4.1 0 0 1 211 444.5 Z M211 448.6 L215.1 448.6 A4.1 4.1 0 0 1 211 452.7 Z" fill="#000" stroke="#000" stroke-width="0" />
<line x1="204.7" y1="448.6" x2="235.8" y2="448.6" stroke="#000" stroke-width="0.9" />
<line x1="211" y1="442.4" x2="211" y2="454.8" stroke="#000" stroke-width="0.9" />
<text transform="translate(216.5 446.7) scale(1.15 1)" font-size="6.4" font-weight="bold" stroke="#000" stroke-width="0.22" >±0.00</text>
<circle cx="273.6" cy="469.8" r="4.1" fill="#fff" stroke="#000" stroke-width="0.9"/>
<path d="M273.6 469.8 L269.5 469.8 A4.1 4.1 0 0 1 273.6 465.7 Z M273.6 469.8 L277.7 469.8 A4.1 4.1 0 0 1 273.6 473.9 Z" fill="#000" stroke="#000" stroke-width="0" />
<line x1="267.3" y1="469.8" x2="297.8" y2="469.8" stroke="#000" stroke-width="0.9" />
<line x1="273.6" y1="463.6" x2="273.6" y2="476" stroke="#000" stroke-width="0.9" />
<text transform="translate(279.1 467.9) scale(1.15 1)" font-size="6.4" font-weight="bold" stroke="#000" stroke-width="0.22" >+0.03</text>
<path d="M295.6 477.8 L311 492.8 H281 Z" fill="#000" stroke="#000" stroke-width="0" />
<path d="M309.2 462.3 L297 474.1 L309.2 485.9 Z" fill="#000" stroke="#fff" stroke-width="1.6" paint-order="stroke"/>
<circle cx="309.4" cy="474.1" r="7.4" fill="#fff" stroke="#000" stroke-width="1"/>
<text transform="translate(308.8 477.7) scale(0.84 1)" font-size="12.0" text-anchor="middle" font-weight="bold" class="s" >A</text>
<path d="M309.2 128.1 L297 139.9 L309.2 151.7 Z" fill="#000" stroke="#fff" stroke-width="1.6" paint-order="stroke"/>
<circle cx="309.4" cy="139.9" r="7.4" fill="#fff" stroke="#000" stroke-width="1"/>
<text transform="translate(308.8 143.5) scale(0.84 1)" font-size="12.0" text-anchor="middle" font-weight="bold" class="s" >A</text>
<text transform="translate(197.6 211.9)" font-size="8.0" stroke="#000" stroke-width="0.3" >Schlafen1</text>
<text transform="translate(198.1 220.6)" font-size="6.5" font-weight="bold" stroke="#000" stroke-width="0.22" >8.06<tspan dx="2.4">m</tspan><tspan dy="-2.2" font-size="4.6">2</tspan></text>
<text transform="translate(197.6 310.5)" font-size="8.0" stroke="#000" stroke-width="0.3" >Schlafen2</text>
<text transform="translate(198.1 318.9)" font-size="6.5" font-weight="bold" stroke="#000" stroke-width="0.22" >8.06<tspan dx="2.4">m</tspan><tspan dy="-2.2" font-size="4.6">2</tspan></text>
<text transform="translate(318.8 183.4)" font-size="8.0" stroke="#000" stroke-width="0.3" >Bad</text>
<text transform="translate(318.7 190.9) scale(1.09 1)" font-size="6.5" font-weight="bold" stroke="#000" stroke-width="0.22" >2.57<tspan dx="2.4">m</tspan><tspan dy="-2.2" font-size="4.6">2</tspan></text>
<text transform="translate(274.4 267.6) scale(0.97 1)" font-size="8.0" stroke="#000" stroke-width="0.3" >Küche</text>
<text transform="translate(274.8 276.2) scale(0.96 1)" font-size="8.0" stroke="#000" stroke-width="0.3" >Essen</text>
<text transform="translate(274.8 285.1) scale(0.935 1)" font-size="8.0" stroke="#000" stroke-width="0.3" >Wohnen</text>
<line x1="296.6" y1="269.3" x2="301.4" y2="259.3" stroke="#000" stroke-width="0.9" />
<line x1="296.6" y1="278" x2="301.4" y2="268" stroke="#000" stroke-width="0.9" />
<text transform="translate(274.5 293.9) scale(1.07 1)" font-size="6.5" font-weight="bold" stroke="#000" stroke-width="0.22" >13.56<tspan dx="2.4">m</tspan><tspan dy="-2.2" font-size="4.6">2</tspan></text>
<text transform="translate(275.6 391.7) scale(1.1 1)" font-size="8.0" stroke="#000" stroke-width="0.25" >Terrasse</text>
<text transform="translate(276.1 400.1)" font-size="6.5" font-weight="bold" stroke="#000" stroke-width="0.22" >12.84<tspan dx="2.4">m</tspan><tspan dy="-2.2" font-size="4.6">2</tspan></text>
<text transform="translate(320.9 443.6)" font-size="6.5" font-weight="bold" stroke="#000" stroke-width="0.22" >3<tspan dx="2.6">Stg.</tspan></text>
<text transform="translate(320.9 451.8) scale(1.12 1)" font-size="6.5" font-weight="bold" stroke="#000" stroke-width="0.22" >0.19/0.27</text>
<text transform="translate(269.6 212.5) scale(1.06 1)" font-size="6.5" text-anchor="middle" font-weight="bold" stroke="#000" stroke-width="0.22" >88<tspan dy="-2.6" font-size="4.4">5</tspan></text>
<line x1="261.1" y1="215.05" x2="276.9" y2="215.05" stroke="#222" stroke-width="1.1" />
<text transform="translate(269.2 221.4) scale(1.06 1)" font-size="6.5" text-anchor="middle" font-weight="bold" stroke="#000" stroke-width="0.22" >2.01</text>
<text transform="translate(318.5 202.8) scale(1.06 1)" font-size="6.5" text-anchor="middle" font-weight="bold" stroke="#000" stroke-width="0.22" >70</text>
<line x1="309.1" y1="204.35" x2="326.3" y2="204.35" stroke="#222" stroke-width="1.1" />
<text transform="translate(317.9 210.7) scale(1.06 1)" font-size="6.5" text-anchor="middle" font-weight="bold" stroke="#000" stroke-width="0.22" >2.01</text>
<text transform="translate(269.6 308.8) scale(1.06 1)" font-size="6.5" text-anchor="middle" font-weight="bold" stroke="#000" stroke-width="0.22" >88<tspan dy="-2.6" font-size="4.4">5</tspan></text>
<line x1="261.1" y1="311.1" x2="276.9" y2="311.1" stroke="#222" stroke-width="1.1" />
<text transform="translate(269.2 317.2) scale(1.06 1)" font-size="6.5" text-anchor="middle" font-weight="bold" stroke="#000" stroke-width="0.22" >2.01</text>
<text transform="translate(294.7 358.4) scale(1.06 1)" font-size="6.5" text-anchor="middle" font-weight="bold" stroke="#000" stroke-width="0.22" >1.00</text>
<line x1="285.3" y1="359.95" x2="302.5" y2="359.95" stroke="#222" stroke-width="1.1" />
<text transform="translate(294.1 366.3) scale(1.06 1)" font-size="6.5" text-anchor="middle" font-weight="bold" stroke="#000" stroke-width="0.22" >2.10</text>
<circle cx="180.1" cy="635.7" r="5.9" fill="#25a585" stroke="#000" stroke-width="0"/>
<text transform="translate(195.6 640) scale(1.035 1)" font-size="16.1" fill="#111" >Grundriss Erdgeschoss</text>
</g>
<g id="dachplan">
<line x1="678.4" y1="15.4" x2="882.2" y2="15.4" stroke="#000" stroke-width="1" />
<line x1="678.4" y1="14.5" x2="678.4" y2="20.4" stroke="#000" stroke-width="1" />
<circle cx="678.4" cy="15.4" r="1.3"/>
<line x1="882.2" y1="14.5" x2="882.2" y2="20.4" stroke="#000" stroke-width="1" />
<circle cx="882.2" cy="15.4" r="1.3"/>
<text transform="translate(780.35 12.6) scale(1.06 1)" font-size="7.9" text-anchor="middle" stroke="#000" stroke-width="0.25" >6.42</text>
<line x1="678.4" y1="329.4" x2="882.2" y2="329.4" stroke="#000" stroke-width="1" />
<line x1="678.4" y1="330.3" x2="678.4" y2="324.4" stroke="#000" stroke-width="1" />
<circle cx="678.4" cy="329.4" r="1.3"/>
<line x1="882.2" y1="330.3" x2="882.2" y2="324.4" stroke="#000" stroke-width="1" />
<circle cx="882.2" cy="329.4" r="1.3"/>
<text transform="translate(780.35 326.6) scale(1.06 1)" font-size="7.9" text-anchor="middle" stroke="#000" stroke-width="0.25" >6.42</text>
<line x1="662.3" y1="31.4" x2="662.3" y2="233" stroke="#000" stroke-width="1" />
<line x1="661.4" y1="31.4" x2="667.3" y2="31.4" stroke="#000" stroke-width="1" />
<circle cx="662.3" cy="31.4" r="1.3"/>
<line x1="661.4" y1="233" x2="667.3" y2="233" stroke="#000" stroke-width="1" />
<circle cx="662.3" cy="233" r="1.3"/>
<text transform="translate(659.3 132.5) rotate(-90) scale(1.06 1)" font-size="7.9" text-anchor="middle" stroke="#000" stroke-width="0.25" >6.34</text>
<line x1="898" y1="31.4" x2="898" y2="233" stroke="#000" stroke-width="1" />
<line x1="898.9" y1="31.4" x2="893" y2="31.4" stroke="#000" stroke-width="1" />
<circle cx="898" cy="31.4" r="1.3"/>
<line x1="898.9" y1="233" x2="893" y2="233" stroke="#000" stroke-width="1" />
<circle cx="898" cy="233" r="1.3"/>
<text transform="translate(895 132.5) rotate(-90) scale(1.06 1)" font-size="7.9" text-anchor="middle" stroke="#000" stroke-width="0.25" >6.34</text>
<rect x="678.2" y="31.4" width="204.3" height="201.6" fill="url(#roof)" stroke="none" stroke-width="0" />
<rect x="678.5" y="31.4" width="203.5" height="201.6" fill="none" stroke="#000" stroke-width="1.2" />
<line x1="678.2" y1="236" x2="882.5" y2="236" stroke="#444" stroke-width="0.9" />
<rect x="678.7" y="236" width="203.4" height="60" fill="#fff" stroke="#000" stroke-width="1.1" />
<path d="M746.44 247.15h1.0v0.9h-1.0zM701.58 270.47h1.2v0.9h-1.2zM703.71 269.43h1v.9h-1zM790.82 242.19h1.0v0.9h-1.0zM797.06 242.34h1.8v0.9h-1.8zM692.3 285.36h1.5v1.1h-1.5zM693.97 284.59h1v.9h-1zM842.59 248.76h1.2v1.1h-1.2zM845.16 249.02h1v.9h-1zM804.09 265.81h1.8v1.1h-1.8zM863.55 258.53h1.2v0.9h-1.2zM730.87 270.02h1.8v1.1h-1.8zM739.43 291.93h1.0v1.3h-1.0zM742.07 290.54h1v.9h-1zM778.69 241.12h1.0v1.3h-1.0zM854.18 255.94h1.5v1.3h-1.5zM838.83 242.71h1.0v1.1h-1.0zM812.91 242.28h1.5v1.3h-1.5zM816.25 263.06h1.8v1.3h-1.8zM819.16 262.49h1v.9h-1zM725.82 254.52h1.2v1.1h-1.2zM728.62 252.84h1v.9h-1zM855.72 283.24h1.5v1.3h-1.5zM857.76 284.78h1v.9h-1zM870.24 247.15h1.2v0.9h-1.2zM872.09 247.09h1v.9h-1zM798.26 253.19h1.0v0.9h-1.0zM800.31 253.45h1v.9h-1zM869.34 276.29h1.0v1.1h-1.0zM835.53 286.22h1.8v1.1h-1.8zM837.18 286.76h1v.9h-1zM695.36 242.64h1.2v1.1h-1.2zM697.37 240.85h1v.9h-1zM683.25 247.17h1.0v1.1h-1.0zM696.93 250.23h1.8v0.9h-1.8zM869.8 271.52h1.8v0.9h-1.8zM872.04 273.43h1v.9h-1zM777.02 255.84h1.2v0.9h-1.2zM827.79 264.85h1.2v1.3h-1.2zM830.72 264.96h1v.9h-1zM711.83 268.33h1.0v1.3h-1.0zM714.3 266.7h1v.9h-1zM848.32 266.99h1.2v1.1h-1.2zM787.22 281.07h1.5v1.3h-1.5zM789.93 283.01h1v.9h-1zM849.72 282.53h1.8v1.3h-1.8zM722.24 265.61h1.0v0.9h-1.0zM775.43 249.46h1.5v1.1h-1.5zM824.43 257.87h1.5v0.9h-1.5zM826.27 256.66h1v.9h-1zM723.11 272.7h1.0v1.1h-1.0zM750.38 273.73h1.0v1.1h-1.0zM829.7 264.81h1.2v1.1h-1.2zM748.14 282.24h1.8v1.1h-1.8zM751.06 283.14h1v.9h-1zM716.4 245.86h1.2v1.3h-1.2zM840.71 246.89h1.8v1.3h-1.8zM713.65 268.61h1.0v0.9h-1.0zM825.06 244.55h1.2v1.1h-1.2zM721.25 286.19h1.0v1.1h-1.0zM723.5 287.25h1v.9h-1zM746.87 268.4h1.2v0.9h-1.2zM752.29 263.74h1.8v1.3h-1.8zM754.02 263.78h1v.9h-1zM853.66 280.93h1.0v0.9h-1.0zM855.87 281.83h1v.9h-1zM791.88 256.6h1.8v0.9h-1.8zM694.3 249.33h1.0v0.9h-1.0zM792.91 280.04h1.0v1.1h-1.0zM795.87 280.46h1v.9h-1zM722.14 253.97h1.8v1.3h-1.8zM819.76 286.33h1.5v1.3h-1.5zM722.77 263.17h1.8v0.9h-1.8zM724.74 263.85h1v.9h-1zM766.85 250.49h1.5v0.9h-1.5zM713.36 277.67h1.5v0.9h-1.5zM715.07 277.54h1v.9h-1zM829.03 244.08h1.8v0.9h-1.8zM845.78 247.72h1.8v1.3h-1.8zM847.91 247.15h1v.9h-1zM701.21 258.76h1.5v1.3h-1.5zM820.53 259.75h1.5v1.3h-1.5zM705.24 288.6h1.2v0.9h-1.2zM707.15 290.23h1v.9h-1zM718.66 279.81h1.8v1.3h-1.8zM733.71 247.07h1.8v1.3h-1.8zM735.62 248.26h1v.9h-1zM719.01 287.35h1.5v0.9h-1.5zM839.76 243.52h1.2v0.9h-1.2zM841.44 241.57h1v.9h-1zM877.39 261.56h1.5v1.3h-1.5zM879.68 260.51h1v.9h-1zM704.58 247.72h1.0v0.9h-1.0zM706.54 246.94h1v.9h-1zM831.53 254.66h1.2v1.1h-1.2zM833.06 253.66h1v.9h-1zM686.2 278.59h1.2v1.3h-1.2zM865.74 244.74h1.8v1.3h-1.8zM846.2 260.23h1.5v1.3h-1.5zM848.04 259.02h1v.9h-1zM855.44 278.36h1.2v1.1h-1.2zM874.96 284.2h1.0v0.9h-1.0zM855.04 262.26h1.0v0.9h-1.0zM757.59 266.32h1.5v1.3h-1.5zM759.53 266.16h1v.9h-1zM713.97 263.07h1.5v1.1h-1.5zM873.15 268.54h1.2v0.9h-1.2zM743.65 258.26h1.0v1.1h-1.0zM745.87 258.27h1v.9h-1zM722.45 266.26h1.0v0.9h-1.0zM724.09 265.85h1v.9h-1zM691.34 240.21h1.5v1.3h-1.5zM693.72 240.33h1v.9h-1zM829.78 274.51h1.8v1.1h-1.8zM779.72 254.35h1.2v0.9h-1.2zM822.84 266.7h1.8v1.3h-1.8zM781.93 288.13h1.0v1.3h-1.0zM857.57 275.88h1.2v0.9h-1.2zM859.27 275.32h1v.9h-1zM703.69 284.13h1.0v1.3h-1.0zM705.99 283.11h1v.9h-1zM734.72 263.68h1.0v1.3h-1.0zM858.55 243.96h1.0v1.3h-1.0zM732.45 243.02h1.5v0.9h-1.5zM723.28 278.95h1.8v1.1h-1.8zM698.19 288.17h1.5v0.9h-1.5zM808.73 243.18h1.2v1.1h-1.2zM811.35 242.4h1v.9h-1zM794.08 239.67h1.0v1.1h-1.0zM796.59 240.44h1v.9h-1zM815.17 254.71h1.5v1.1h-1.5zM833.03 292.64h1.2v1.1h-1.2zM866.05 239.95h1.8v0.9h-1.8zM872.27 263.27h1.5v1.1h-1.5zM875.19 262.11h1v.9h-1zM796.76 246.65h1.5v1.1h-1.5zM799.49 246.69h1v.9h-1zM856.4 276.98h1.2v1.1h-1.2zM778.14 240.34h1.0v1.1h-1.0zM762.38 278.27h1.8v1.1h-1.8zM764.06 277.59h1v.9h-1zM746.58 257.27h1.8v0.9h-1.8zM721.43 239.63h1.5v1.1h-1.5zM723.52 241.63h1v.9h-1zM766.8 253.86h1.0v1.1h-1.0zM769.55 253h1v.9h-1zM865.92 252.46h1.5v1.1h-1.5zM720.28 259.16h1.8v0.9h-1.8zM806.41 288.32h1.2v1.3h-1.2zM809.31 287.97h1v.9h-1zM803.29 246.48h1.5v1.1h-1.5zM806.18 244.99h1v.9h-1zM775.42 257.56h1.5v1.1h-1.5zM873.87 253.05h1.2v1.1h-1.2zM813.83 245.47h1.2v0.9h-1.2zM816.69 245.45h1v.9h-1zM726.17 287.94h1.8v1.1h-1.8zM727.96 286.3h1v.9h-1zM749.98 243.92h1.2v1.1h-1.2zM752.34 245.47h1v.9h-1zM829.61 261.29h1.8v1.3h-1.8zM756.8 257.26h1.0v1.1h-1.0zM759.75 255.77h1v.9h-1zM781.51 273h1.2v0.9h-1.2zM783.39 272.6h1v.9h-1zM770.28 290.51h1.0v0.9h-1.0zM772.84 292.1h1v.9h-1zM683.23 260.14h1.8v1.1h-1.8zM684.9 258.76h1v.9h-1zM785.22 275.83h1.8v0.9h-1.8zM690.92 281.24h1.2v1.3h-1.2zM809.27 255.4h1.2v1.3h-1.2zM811.72 256.2h1v.9h-1zM705.1 242.8h1.2v1.1h-1.2zM707.79 240.8h1v.9h-1zM788.17 292.8h1.5v1.1h-1.5zM855.8 264.67h1.2v1.3h-1.2zM858.74 265.49h1v.9h-1zM743.23 240.18h1.8v1.3h-1.8zM699.04 251.3h1.8v1.1h-1.8zM700.59 250.66h1v.9h-1zM765.33 275.86h1.2v0.9h-1.2zM827.55 266.26h1.2v1.1h-1.2zM744.08 283.28h1.2v1.1h-1.2zM746.72 282.46h1v.9h-1zM869.11 265.77h1.2v0.9h-1.2zM861 242.05h1.2v1.1h-1.2zM862.54 242.43h1v.9h-1zM764.32 277.33h1.2v1.1h-1.2zM766.89 276.59h1v.9h-1zM705.31 243.29h1.2v1.1h-1.2zM707.79 243.38h1v.9h-1zM774.53 255.84h1.8v1.1h-1.8zM769.61 244.88h1.0v1.1h-1.0zM771.74 246.42h1v.9h-1zM792.79 279.98h1.8v1.1h-1.8zM743.49 282.41h1.0v0.9h-1.0zM721.42 268.24h1.8v0.9h-1.8zM724.03 268.14h1v.9h-1zM806.56 252.39h1.8v0.9h-1.8zM808.76 253.61h1v.9h-1zM695.31 249.53h1.0v1.3h-1.0zM697.22 251.36h1v.9h-1zM803.7 253.16h1.5v1.1h-1.5zM806.28 253.54h1v.9h-1zM840.55 290.11h1.0v0.9h-1.0zM704.15 277.64h1.8v1.1h-1.8zM861.62 283h1.2v1.1h-1.2zM864.32 283.95h1v.9h-1zM843.88 280.73h1.2v1.1h-1.2zM773.19 281.33h1.0v1.3h-1.0zM775.82 280.32h1v.9h-1zM695.84 240.83h1.5v0.9h-1.5zM855.74 292.34h1.5v1.3h-1.5zM857.39 292.34h1v.9h-1zM821.82 263.14h1.2v0.9h-1.2zM824.25 263.83h1v.9h-1zM829.28 284.74h1.0v1.1h-1.0zM831.63 284.23h1v.9h-1zM827.34 249.76h1.2v0.9h-1.2zM829.07 251.29h1v.9h-1zM796.14 256.62h1.8v1.1h-1.8zM782.28 251.49h1.0v1.3h-1.0zM690.43 239.24h1.2v1.1h-1.2zM691.08 254.86h1.0v0.9h-1.0zM694.04 255.19h1v.9h-1zM864.86 259.1h1.2v1.1h-1.2zM834.56 274.9h1.0v0.9h-1.0zM821.81 257.88h1.0v1.1h-1.0zM823.37 259.88h1v.9h-1zM690.67 278.54h1.2v0.9h-1.2zM804.48 243.21h1.0v1.1h-1.0zM695.56 244.47h1.8v1.3h-1.8zM808.03 243.92h1.2v1.1h-1.2zM763.23 254.3h1.5v1.1h-1.5zM744.2 269.59h1.5v1.1h-1.5zM747 271.58h1v.9h-1zM754.25 249.65h1.8v0.9h-1.8zM767.99 247.45h1.0v0.9h-1.0zM770.82 247.3h1v.9h-1zM714.94 239.8h1.2v1.3h-1.2zM760.68 269.93h1.5v1.3h-1.5zM711.69 254.3h1.2v0.9h-1.2zM713.93 255.52h1v.9h-1zM872.03 249.66h1.2v0.9h-1.2zM777.48 241.88h1.8v0.9h-1.8zM804.35 283.53h1.2v1.3h-1.2zM726.57 260.84h1.2v1.1h-1.2zM728.4 260.44h1v.9h-1zM707.23 252.34h1.2v0.9h-1.2zM847.74 275.3h1.5v0.9h-1.5zM849.92 276.7h1v.9h-1zM835.16 274.05h1.5v1.3h-1.5zM837.24 273.52h1v.9h-1zM781.55 248.65h1.0v1.3h-1.0zM804.01 283.22h1.2v1.1h-1.2zM805.61 282.66h1v.9h-1zM754.55 282.32h1.0v0.9h-1.0zM699.26 278.61h1.0v0.9h-1.0zM857.97 274.25h1.2v0.9h-1.2zM877.74 278.53h1.0v0.9h-1.0zM880.57 277.68h1v.9h-1zM841.59 281.93h1.2v0.9h-1.2zM802.42 252.62h1.5v1.3h-1.5zM805.14 251.19h1v.9h-1zM781.28 288.68h1.2v1.3h-1.2zM783.54 287.95h1v.9h-1zM690.39 248.83h1.2v1.3h-1.2zM815.94 287.35h1.2v1.1h-1.2zM818.24 287.9h1v.9h-1zM753.46 286.14h1.0v1.1h-1.0zM806.2 260.29h1.5v1.1h-1.5zM808.25 258.87h1v.9h-1zM747.81 243.39h1.2v0.9h-1.2zM870.29 255h1.5v1.1h-1.5zM875.39 270.64h1.5v1.3h-1.5zM876.94 269.23h1v.9h-1zM783.33 287.36h1.2v1.1h-1.2zM785.81 285.45h1v.9h-1zM683.71 258.17h1.0v1.3h-1.0zM685.55 258.5h1v.9h-1zM798.25 250.03h1.8v0.9h-1.8zM801.15 249h1v.9h-1zM712.36 244.17h1.2v1.3h-1.2zM761.7 253.27h1.0v0.9h-1.0zM793.02 257.92h1.8v1.3h-1.8zM826.46 252.42h1.0v0.9h-1.0zM827.99 251.16h1v.9h-1zM714.3 288.23h1.0v0.9h-1.0zM811.47 249.65h1.8v0.9h-1.8zM808.72 273.97h1.8v1.3h-1.8zM810.68 273.17h1v.9h-1zM692.67 287.03h1.8v1.3h-1.8zM756.47 262.58h1.8v0.9h-1.8zM771.57 251.2h1.0v1.1h-1.0zM773.13 250.54h1v.9h-1zM829.61 276.54h1.5v1.3h-1.5zM832.06 277.25h1v.9h-1zM817.12 288.53h1.5v1.1h-1.5zM871.69 250.72h1.0v0.9h-1.0zM873.55 251.69h1v.9h-1zM867.7 279.29h1.5v0.9h-1.5z" fill="#222"/>
<text transform="translate(766.7 266.9) scale(1.13 1)" font-size="7.0" font-weight="bold" stroke="#000" stroke-width="0.22" >Terrasse</text>
<rect x="785.6" y="296" width="35.4" height="19" fill="#fff" stroke="#000" stroke-width="1" />
<line x1="787.1" y1="296" x2="787.1" y2="315" stroke="#555" stroke-width="0.8" />
<line x1="819.5" y1="296" x2="819.5" y2="315" stroke="#555" stroke-width="0.8" />
<line x1="785.6" y1="305.4" x2="821" y2="305.4" stroke="#000" stroke-width="1" />
<line x1="803.5" y1="318.3" x2="803.5" y2="295" stroke="#000" stroke-width="0.9" />
<circle cx="803.5" cy="318.3" r="1" fill="#000" stroke="#000" stroke-width="0"/>
<path d="M799.6 296.3 L803.5 292 L807.4 296.3 Z" fill="#000" stroke="#000" stroke-width="0" />
<rect x="718" y="103" width="10.2" height="49" fill="#fff" stroke="none" stroke-width="0" />
<text transform="translate(726.6 127.4) rotate(-90)" font-size="10.2" text-anchor="middle" fill="#111" >NEIGUNG</text>
<line x1="730.9" y1="103" x2="730.9" y2="157" stroke="#000" stroke-width="1.7" />
<path d="M727 152.4 L730.9 161.2 L734.8 152.4 L730.9 155.2 Z" fill="#000" stroke="#000" stroke-width="0" />
<rect x="828.6" y="103" width="10.2" height="49" fill="#fff" stroke="none" stroke-width="0" />
<text transform="translate(837.2 127.4) rotate(-90)" font-size="10.2" text-anchor="middle" fill="#111" >NEIGUNG</text>
<line x1="842" y1="103" x2="842" y2="157" stroke="#000" stroke-width="1.7" />
<path d="M838.1 152.4 L842 161.2 L845.9 152.4 L842 155.2 Z" fill="#000" stroke="#000" stroke-width="0" />
<circle cx="744" cy="349.7" r="5.9" fill="#25a585" stroke="#000" stroke-width="0"/>
<text transform="translate(759.5 353.8) scale(1.035 1)" font-size="16.1" fill="#111" >Dachplan</text>
</g>
<g id="ansicht">
<line x1="672.9" y1="393.1" x2="887.4" y2="393.1" stroke="#000" stroke-width="1" />
<line x1="672.9" y1="392.2" x2="672.9" y2="398.1" stroke="#000" stroke-width="1" />
<circle cx="672.9" cy="393.1" r="1.3"/>
<line x1="887.4" y1="392.2" x2="887.4" y2="398.1" stroke="#000" stroke-width="1" />
<circle cx="887.4" cy="393.1" r="1.3"/>
<text transform="translate(780.05 390.3) scale(1.12 1)" font-size="7.9" text-anchor="middle" stroke="#000" stroke-width="0.25" >6.34</text>
<line x1="672.9" y1="406.7" x2="887.4" y2="406.7" stroke="#000" stroke-width="1" />
<line x1="672.9" y1="405.8" x2="672.9" y2="411.7" stroke="#000" stroke-width="1" />
<circle cx="672.9" cy="406.7" r="1.3"/>
<line x1="680.57" y1="405.8" x2="680.57" y2="411.7" stroke="#000" stroke-width="1" />
<circle cx="680.57" cy="406.7" r="1.3"/>
<line x1="880.63" y1="405.8" x2="880.63" y2="411.7" stroke="#000" stroke-width="1" />
<circle cx="880.63" cy="406.7" r="1.3"/>
<line x1="887.4" y1="405.8" x2="887.4" y2="411.7" stroke="#000" stroke-width="1" />
<circle cx="887.4" cy="406.7" r="1.3"/>
<text transform="translate(676.6 403.9) scale(1.12 1)" font-size="7.9" text-anchor="middle" stroke="#000" stroke-width="0.25" >20</text>
<text transform="translate(780.05 403.9) scale(1.12 1)" font-size="7.9" text-anchor="middle" stroke="#000" stroke-width="0.25" >5.94</text>
<text transform="translate(883.8 403.9) scale(1.12 1)" font-size="7.9" text-anchor="middle" stroke="#000" stroke-width="0.25" >20</text>
<line x1="672.9" y1="420" x2="887.4" y2="420" stroke="#000" stroke-width="1" />
<line x1="672.9" y1="419.1" x2="672.9" y2="425" stroke="#000" stroke-width="1" />
<circle cx="672.9" cy="420" r="1.3"/>
<line x1="683.26" y1="419.1" x2="683.26" y2="425" stroke="#000" stroke-width="1" />
<circle cx="683.26" cy="420" r="1.3"/>
<line x1="877.24" y1="419.1" x2="877.24" y2="425" stroke="#000" stroke-width="1" />
<circle cx="877.24" cy="420" r="1.3"/>
<line x1="887.4" y1="419.1" x2="887.4" y2="425" stroke="#000" stroke-width="1" />
<circle cx="887.4" cy="420" r="1.3"/>
<text transform="translate(678.4 417.2) scale(1.12 1)" font-size="7.9" text-anchor="middle" stroke="#000" stroke-width="0.25" >30</text>
<text transform="translate(780.05 417.2) scale(1.12 1)" font-size="7.9" text-anchor="middle" stroke="#000" stroke-width="0.25" >5.74</text>
<text transform="translate(882.2 417.2) scale(1.12 1)" font-size="7.9" text-anchor="middle" stroke="#000" stroke-width="0.25" >30</text>
<line x1="911.3" y1="454" x2="911.3" y2="548.9" stroke="#000" stroke-width="1" />
<line x1="912.2" y1="454" x2="906.3" y2="454" stroke="#000" stroke-width="1" />
<circle cx="911.3" cy="454" r="1.3"/>
<line x1="912.2" y1="548.9" x2="906.3" y2="548.9" stroke="#000" stroke-width="1" />
<circle cx="911.3" cy="548.9" r="1.3"/>
<text transform="translate(908.3 500.6) rotate(-90) scale(1.12 1)" font-size="7.9" text-anchor="middle" stroke="#000" stroke-width="0.25" >2.81</text>
<line x1="928.3" y1="440.5" x2="928.3" y2="609.3" stroke="#000" stroke-width="1" />
<line x1="929.2" y1="440.5" x2="923.3" y2="440.5" stroke="#000" stroke-width="1" />
<circle cx="928.3" cy="440.5" r="1.3"/>
<line x1="929.2" y1="443.5" x2="923.3" y2="443.5" stroke="#000" stroke-width="1" />
<circle cx="928.3" cy="443.5" r="1.3"/>
<line x1="929.2" y1="450.2" x2="923.3" y2="450.2" stroke="#000" stroke-width="1" />
<circle cx="928.3" cy="450.2" r="1.3"/>
<line x1="929.2" y1="457.4" x2="923.3" y2="457.4" stroke="#000" stroke-width="1" />
<circle cx="928.3" cy="457.4" r="1.3"/>
<line x1="929.2" y1="541.6" x2="923.3" y2="541.6" stroke="#000" stroke-width="1" />
<circle cx="928.3" cy="541.6" r="1.3"/>
<line x1="929.2" y1="548.9" x2="923.3" y2="548.9" stroke="#000" stroke-width="1" />
<circle cx="928.3" cy="548.9" r="1.3"/>
<line x1="929.2" y1="561.8" x2="923.3" y2="561.8" stroke="#000" stroke-width="1" />
<circle cx="928.3" cy="561.8" r="1.3"/>
<line x1="929.2" y1="609.3" x2="923.3" y2="609.3" stroke="#000" stroke-width="1" />
<circle cx="928.3" cy="609.3" r="1.3"/>
<text transform="translate(925.3 435.6) rotate(-90) scale(1.12 1)" font-size="7.9" text-anchor="middle" stroke="#000" stroke-width="0.25" >7</text>
<text transform="translate(925.3 446.8) rotate(-90) scale(1.12 1)" font-size="7.9" text-anchor="middle" stroke="#000" stroke-width="0.25" >21</text>
<text transform="translate(925.3 465) rotate(-90) scale(1.12 1)" font-size="7.9" text-anchor="middle" stroke="#000" stroke-width="0.25" >22</text>
<text transform="translate(925.3 499) rotate(-90) scale(1.12 1)" font-size="7.9" text-anchor="middle" stroke="#000" stroke-width="0.25" >2.50</text>
<text transform="translate(925.3 536.2) rotate(-90) scale(1.12 1)" font-size="7.9" text-anchor="middle" stroke="#000" stroke-width="0.25" >21</text>
<text transform="translate(925.3 555.2) rotate(-90) scale(1.12 1)" font-size="7.9" text-anchor="middle" stroke="#000" stroke-width="0.25" >39</text>
<text transform="translate(925.3 584.8) rotate(-90) scale(1.12 1)" font-size="7.9" text-anchor="middle" stroke="#000" stroke-width="0.25" >1.41</text>
<line x1="943.3" y1="440.5" x2="943.3" y2="609.3" stroke="#000" stroke-width="1" />
<line x1="944.2" y1="440.5" x2="938.3" y2="440.5" stroke="#000" stroke-width="1" />
<circle cx="943.3" cy="440.5" r="1.3"/>
<line x1="944.2" y1="449.7" x2="938.3" y2="449.7" stroke="#000" stroke-width="1" />
<circle cx="943.3" cy="449.7" r="1.3"/>
<line x1="944.2" y1="548.9" x2="938.3" y2="548.9" stroke="#000" stroke-width="1" />
<circle cx="943.3" cy="548.9" r="1.3"/>
<line x1="944.2" y1="609.3" x2="938.3" y2="609.3" stroke="#000" stroke-width="1" />
<circle cx="943.3" cy="609.3" r="1.3"/>
<text transform="translate(940.3 455.9) rotate(-90) scale(1.12 1)" font-size="7.9" text-anchor="middle" stroke="#000" stroke-width="0.25" >28</text>
<text transform="translate(940.3 499) rotate(-90) scale(1.12 1)" font-size="7.9" text-anchor="middle" stroke="#000" stroke-width="0.25" >2.93</text>
<text transform="translate(940.3 579.4) rotate(-90) scale(1.12 1)" font-size="7.9" text-anchor="middle" stroke="#000" stroke-width="0.25" >1.80</text>
<line x1="958.7" y1="440.5" x2="958.7" y2="609.3" stroke="#000" stroke-width="1" />
<line x1="959.6" y1="440.5" x2="953.7" y2="440.5" stroke="#000" stroke-width="1" />
<circle cx="958.7" cy="440.5" r="1.3"/>
<line x1="959.6" y1="548.9" x2="953.7" y2="548.9" stroke="#000" stroke-width="1" />
<circle cx="958.7" cy="548.9" r="1.3"/>
<line x1="959.6" y1="609.3" x2="953.7" y2="609.3" stroke="#000" stroke-width="1" />
<circle cx="958.7" cy="609.3" r="1.3"/>
<text transform="translate(955.7 494) rotate(-90) scale(1.12 1)" font-size="7.9" text-anchor="middle" stroke="#000" stroke-width="0.25" >3.21</text>
<text transform="translate(955.7 579.4) rotate(-90) scale(1.12 1)" font-size="7.9" text-anchor="middle" stroke="#000" stroke-width="0.25" >1.80</text>
<line x1="973.8" y1="440.5" x2="973.8" y2="609.3" stroke="#000" stroke-width="1" />
<line x1="974.7" y1="440.5" x2="968.8" y2="440.5" stroke="#000" stroke-width="1" />
<circle cx="973.8" cy="440.5" r="1.3"/>
<line x1="974.7" y1="561.8" x2="968.8" y2="561.8" stroke="#000" stroke-width="1" />
<circle cx="973.8" cy="561.8" r="1.3"/>
<line x1="974.7" y1="609.3" x2="968.8" y2="609.3" stroke="#000" stroke-width="1" />
<circle cx="973.8" cy="609.3" r="1.3"/>
<text transform="translate(970.8 500.6) rotate(-90) scale(1.12 1)" font-size="7.9" text-anchor="middle" stroke="#000" stroke-width="0.25" >3.60</text>
<text transform="translate(970.8 584.8) rotate(-90) scale(1.12 1)" font-size="7.9" text-anchor="middle" stroke="#000" stroke-width="0.25" >1.41</text>
<line x1="989" y1="440.5" x2="989" y2="609.3" stroke="#000" stroke-width="1" />
<line x1="989.9" y1="440.5" x2="984" y2="440.5" stroke="#000" stroke-width="1" />
<circle cx="989" cy="440.5" r="1.3"/>
<line x1="989.9" y1="609.3" x2="984" y2="609.3" stroke="#000" stroke-width="1" />
<circle cx="989" cy="609.3" r="1.3"/>
<text transform="translate(986 525) rotate(-90) scale(1.12 1)" font-size="7.9" text-anchor="middle" stroke="#000" stroke-width="0.25" >5.01</text>
<line x1="679.9" y1="549" x2="679.9" y2="577" stroke="#111" stroke-width="1.1" />
<line x1="684.7" y1="549" x2="684.7" y2="577" stroke="#555" stroke-width="1" />
<path d="M679.9 577 L681.7 609.3 L682.5 609.3 L684.7 577" fill="none" stroke="#111" stroke-width="1" />
<line x1="678.7" y1="578.7" x2="685.4" y2="577.9" stroke="#111" stroke-width="1.05" />
<line x1="678.94" y1="581.75" x2="685.16" y2="580.95" stroke="#111" stroke-width="1.05" />
<line x1="679.19" y1="584.8" x2="684.91" y2="584" stroke="#111" stroke-width="1.05" />
<line x1="679.43" y1="587.85" x2="684.67" y2="587.05" stroke="#111" stroke-width="1.05" />
<line x1="679.68" y1="590.9" x2="684.42" y2="590.1" stroke="#111" stroke-width="1.05" />
<line x1="679.92" y1="593.95" x2="684.18" y2="593.15" stroke="#111" stroke-width="1.05" />
<line x1="680.17" y1="597" x2="683.93" y2="596.2" stroke="#111" stroke-width="1.05" />
<line x1="680.41" y1="600.05" x2="683.69" y2="599.25" stroke="#111" stroke-width="1.05" />
<line x1="680.66" y1="603.1" x2="683.44" y2="602.3" stroke="#111" stroke-width="1.05" />
<line x1="728.4" y1="549" x2="728.4" y2="577" stroke="#111" stroke-width="1.1" />
<line x1="733.2" y1="549" x2="733.2" y2="577" stroke="#555" stroke-width="1" />
<path d="M728.4 577 L730.2 609.3 L731.0 609.3 L733.2 577" fill="none" stroke="#111" stroke-width="1" />
<line x1="727.2" y1="578.7" x2="733.9" y2="577.9" stroke="#111" stroke-width="1.05" />
<line x1="727.44" y1="581.75" x2="733.66" y2="580.95" stroke="#111" stroke-width="1.05" />
<line x1="727.69" y1="584.8" x2="733.41" y2="584" stroke="#111" stroke-width="1.05" />
<line x1="727.93" y1="587.85" x2="733.17" y2="587.05" stroke="#111" stroke-width="1.05" />
<line x1="728.18" y1="590.9" x2="732.92" y2="590.1" stroke="#111" stroke-width="1.05" />
<line x1="728.42" y1="593.95" x2="732.68" y2="593.15" stroke="#111" stroke-width="1.05" />
<line x1="728.67" y1="597" x2="732.43" y2="596.2" stroke="#111" stroke-width="1.05" />
<line x1="728.91" y1="600.05" x2="732.19" y2="599.25" stroke="#111" stroke-width="1.05" />
<line x1="729.16" y1="603.1" x2="731.94" y2="602.3" stroke="#111" stroke-width="1.05" />
<line x1="778.1" y1="549" x2="778.1" y2="577" stroke="#111" stroke-width="1.1" />
<line x1="782.9" y1="549" x2="782.9" y2="577" stroke="#555" stroke-width="1" />
<path d="M778.1 577 L779.9000000000001 609.3 L780.7 609.3 L782.9000000000001 577" fill="none" stroke="#111" stroke-width="1" />
<line x1="776.9" y1="578.7" x2="783.6" y2="577.9" stroke="#111" stroke-width="1.05" />
<line x1="777.14" y1="581.75" x2="783.36" y2="580.95" stroke="#111" stroke-width="1.05" />
<line x1="777.39" y1="584.8" x2="783.11" y2="584" stroke="#111" stroke-width="1.05" />
<line x1="777.63" y1="587.85" x2="782.87" y2="587.05" stroke="#111" stroke-width="1.05" />
<line x1="777.88" y1="590.9" x2="782.62" y2="590.1" stroke="#111" stroke-width="1.05" />
<line x1="778.12" y1="593.95" x2="782.38" y2="593.15" stroke="#111" stroke-width="1.05" />
<line x1="778.37" y1="597" x2="782.13" y2="596.2" stroke="#111" stroke-width="1.05" />
<line x1="778.61" y1="600.05" x2="781.89" y2="599.25" stroke="#111" stroke-width="1.05" />
<line x1="778.86" y1="603.1" x2="781.64" y2="602.3" stroke="#111" stroke-width="1.05" />
<line x1="827.4" y1="549" x2="827.4" y2="577" stroke="#111" stroke-width="1.1" />
<line x1="832.2" y1="549" x2="832.2" y2="577" stroke="#555" stroke-width="1" />
<path d="M827.4 577 L829.2 609.3 L830.0 609.3 L832.2 577" fill="none" stroke="#111" stroke-width="1" />
<line x1="826.2" y1="578.7" x2="832.9" y2="577.9" stroke="#111" stroke-width="1.05" />
<line x1="826.44" y1="581.75" x2="832.66" y2="580.95" stroke="#111" stroke-width="1.05" />
<line x1="826.69" y1="584.8" x2="832.41" y2="584" stroke="#111" stroke-width="1.05" />
<line x1="826.93" y1="587.85" x2="832.17" y2="587.05" stroke="#111" stroke-width="1.05" />
<line x1="827.18" y1="590.9" x2="831.92" y2="590.1" stroke="#111" stroke-width="1.05" />
<line x1="827.42" y1="593.95" x2="831.68" y2="593.15" stroke="#111" stroke-width="1.05" />
<line x1="827.67" y1="597" x2="831.43" y2="596.2" stroke="#111" stroke-width="1.05" />
<line x1="827.91" y1="600.05" x2="831.19" y2="599.25" stroke="#111" stroke-width="1.05" />
<line x1="828.16" y1="603.1" x2="830.94" y2="602.3" stroke="#111" stroke-width="1.05" />
<line x1="876.4" y1="549" x2="876.4" y2="577" stroke="#111" stroke-width="1.1" />
<line x1="881.2" y1="549" x2="881.2" y2="577" stroke="#555" stroke-width="1" />
<path d="M876.4 577 L878.2 609.3 L879.0 609.3 L881.2 577" fill="none" stroke="#111" stroke-width="1" />
<line x1="875.2" y1="578.7" x2="881.9" y2="577.9" stroke="#111" stroke-width="1.05" />
<line x1="875.44" y1="581.75" x2="881.66" y2="580.95" stroke="#111" stroke-width="1.05" />
<line x1="875.69" y1="584.8" x2="881.41" y2="584" stroke="#111" stroke-width="1.05" />
<line x1="875.93" y1="587.85" x2="881.17" y2="587.05" stroke="#111" stroke-width="1.05" />
<line x1="876.18" y1="590.9" x2="880.92" y2="590.1" stroke="#111" stroke-width="1.05" />
<line x1="876.42" y1="593.95" x2="880.68" y2="593.15" stroke="#111" stroke-width="1.05" />
<line x1="876.67" y1="597" x2="880.43" y2="596.2" stroke="#111" stroke-width="1.05" />
<line x1="876.91" y1="600.05" x2="880.19" y2="599.25" stroke="#111" stroke-width="1.05" />
<line x1="877.16" y1="603.1" x2="879.94" y2="602.3" stroke="#111" stroke-width="1.05" />
<rect x="672.7" y="440.5" width="214.7" height="17" fill="#fff" stroke="none" stroke-width="0" />
<line x1="672.7" y1="440.5" x2="887.4" y2="440.5" stroke="#222" stroke-width="1.1" />
<rect x="673.7" y="441.2" width="213.7" height="2.2" fill="#a4a4a4" stroke="none" stroke-width="0" />
<path d="M672.7 449.6 L887.4 443.2 V457.5 H672.7 Z" fill="#000" stroke="none" stroke-width="0" />
<clipPath id="cr"><path d="M673.7 451 L886.4 444.5 V457.5 H673.7 Z"/></clipPath>
<g clip-path="url(#cr)">
<line x1="673.7" y1="445.1" x2="886.4" y2="445.1" stroke="#c4c4c4" stroke-width="1.0" stroke-dasharray="1.1 1.9" stroke-dashoffset="0"/>
<line x1="673.7" y1="447.3" x2="886.4" y2="447.3" stroke="#c4c4c4" stroke-width="1.0" stroke-dasharray="1.1 1.9" stroke-dashoffset="1.5"/>
<line x1="673.7" y1="449.5" x2="886.4" y2="449.5" stroke="#c4c4c4" stroke-width="1.0" stroke-dasharray="1.1 1.9" stroke-dashoffset="0"/>
<line x1="673.7" y1="451.7" x2="886.4" y2="451.7" stroke="#c4c4c4" stroke-width="1.0" stroke-dasharray="1.1 1.9" stroke-dashoffset="1.5"/>
<line x1="673.7" y1="453.6" x2="886.4" y2="453.6" stroke="#c4c4c4" stroke-width="1.0" stroke-dasharray="1.1 1.9" stroke-dashoffset="0"/>
<line x1="673.7" y1="455.7" x2="886.4" y2="455.7" stroke="#888" stroke-width="1.0" stroke-dasharray="1.1 1.9" stroke-dashoffset="1.5"/>
</g>
<line x1="673.2" y1="440.5" x2="673.2" y2="450.5" stroke="#222" stroke-width="1" />
<rect x="884.2" y="440.9" width="2.8" height="6.1" fill="url(#hatch)" stroke="#000" stroke-width="0.8" />
<path d="M666.4 450.6 C666.6 453.8 669 454.6 672.7 453.6" fill="none" stroke="#000" stroke-width="0.9" />
<rect x="672.7" y="457" width="11" height="14" fill="#000" stroke="none" stroke-width="0" />
<rect x="673.3" y="457.5" width="3.7" height="12.9" fill="#3a3a3a" stroke="none" stroke-width="0" />
<line x1="679" y1="457.5" x2="679" y2="470.4" stroke="#c4c4c4" stroke-width="1.0" stroke-dasharray="1.1 1.9" stroke-dashoffset="0"/>
<line x1="681.3" y1="457.5" x2="681.3" y2="470.4" stroke="#c4c4c4" stroke-width="1.0" stroke-dasharray="1.1 1.9" stroke-dashoffset="1.5"/>
<line x1="673.2" y1="471" x2="673.2" y2="561.8" stroke="#222" stroke-width="1.2" />
<rect x="680.5" y="471" width="3.2" height="70" fill="#2a2a2a" stroke="none" stroke-width="0" />
<rect x="672.7" y="541" width="214.7" height="8" fill="#000" stroke="none" stroke-width="0" />
<line x1="673.7" y1="543.8" x2="876" y2="543.8" stroke="#777" stroke-width="0.9" stroke-dasharray="1.1 1.9" stroke-dashoffset="0"/>
<line x1="673.7" y1="546.9" x2="878" y2="546.9" stroke="#c8c8c8" stroke-width="1.1" stroke-dasharray="1.3 1.7" stroke-dashoffset="1.5"/>
<rect x="876.5" y="443.8" width="10.9" height="105.2" fill="#000" stroke="none" stroke-width="0" />
<line x1="878.3" y1="458" x2="878.3" y2="547" stroke="#c4c4c4" stroke-width="1.0" stroke-dasharray="1.6 1.4" stroke-dashoffset="0"/>
<line x1="881.7" y1="447" x2="881.7" y2="548" stroke="#b0b0b0" stroke-width="0.9" stroke-dasharray="1.1 1.9" stroke-dashoffset="0"/>
<line x1="883.6" y1="447" x2="883.6" y2="548" stroke="#999" stroke-width="0.9" stroke-dasharray="1.1 1.9" stroke-dashoffset="1.5"/>
<line x1="673.4" y1="549" x2="673.4" y2="561.8" stroke="#222" stroke-width="1.7" />
<line x1="880.8" y1="549" x2="880.8" y2="561.8" stroke="#222" stroke-width="0.9" />
<line x1="886.6" y1="549" x2="886.6" y2="561.8" stroke="#000" stroke-width="1.6" />
<line x1="695.3" y1="457.5" x2="695.3" y2="561.8" stroke="#000" stroke-width="1" />
<line x1="696.2" y1="457.5" x2="690.3" y2="457.5" stroke="#000" stroke-width="1" />
<circle cx="695.3" cy="457.5" r="1.3"/>
<line x1="696.2" y1="471" x2="690.3" y2="471" stroke="#000" stroke-width="1" />
<circle cx="695.3" cy="471" r="1.3"/>
<line x1="696.2" y1="541" x2="690.3" y2="541" stroke="#000" stroke-width="1" />
<circle cx="695.3" cy="541" r="1.3"/>
<line x1="696.2" y1="561.8" x2="690.3" y2="561.8" stroke="#000" stroke-width="1" />
<circle cx="695.3" cy="561.8" r="1.3"/>
<text transform="translate(692.3 464.2) rotate(-90) scale(1.22 1)" font-size="7.9" text-anchor="middle" stroke="#000" stroke-width="0.25" >40</text>
<text transform="translate(692.3 506.2) rotate(-90) scale(1.22 1)" font-size="7.9" text-anchor="middle" stroke="#000" stroke-width="0.25" >2.10</text>
<text transform="translate(692.3 554.8) rotate(-90) scale(1.22 1)" font-size="7.9" text-anchor="middle" stroke="#000" stroke-width="0.25" >60</text>
<rect x="843" y="457.5" width="3.5" height="83.5" fill="url(#hatch)" stroke="#000" stroke-width="0.9" />
<rect x="715.3" y="474" width="2.5" height="67" fill="#a8a8a8" stroke="none" stroke-width="0" />
<line x1="715.65" y1="474" x2="715.65" y2="541" stroke="#2a2a2a" stroke-width="0.8" />
<line x1="717.5" y1="474" x2="717.5" y2="541" stroke="#2a2a2a" stroke-width="0.8" />
<rect x="743" y="474" width="2.5" height="67" fill="#a8a8a8" stroke="none" stroke-width="0" />
<line x1="743.35" y1="474" x2="743.35" y2="541" stroke="#2a2a2a" stroke-width="0.8" />
<line x1="745.2" y1="474" x2="745.2" y2="541" stroke="#2a2a2a" stroke-width="0.8" />
<rect x="715.3" y="473.7" width="30.2" height="2" fill="#3a3a3a" stroke="none" stroke-width="0" />
<line x1="730.8" y1="483.8" x2="730.8" y2="531" stroke="#111" stroke-width="0.9" stroke-dasharray="2.2 1.3"/>
<line x1="730.8" y1="483.8" x2="742.9" y2="475.8" stroke="#000" stroke-width="0.9" />
<line x1="730.8" y1="531" x2="742.9" y2="540.6" stroke="#000" stroke-width="0.9" />
<line x1="719.2" y1="505.6" x2="719.2" y2="514.6" stroke="#000" stroke-width="2" />
<line x1="719.2" y1="509.2" x2="723.8" y2="509.2" stroke="#000" stroke-width="1.3" />
<rect x="812.4" y="474" width="2.5" height="67" fill="#a8a8a8" stroke="none" stroke-width="0" />
<line x1="812.75" y1="474" x2="812.75" y2="541" stroke="#2a2a2a" stroke-width="0.8" />
<line x1="814.6" y1="474" x2="814.6" y2="541" stroke="#2a2a2a" stroke-width="0.8" />
<rect x="839.9" y="474" width="2.5" height="67" fill="#a8a8a8" stroke="none" stroke-width="0" />
<line x1="840.25" y1="474" x2="840.25" y2="541" stroke="#2a2a2a" stroke-width="0.8" />
<line x1="842.1" y1="474" x2="842.1" y2="541" stroke="#2a2a2a" stroke-width="0.8" />
<rect x="812.4" y="473.7" width="30" height="2" fill="#3a3a3a" stroke="none" stroke-width="0" />
<line x1="826.8" y1="483.8" x2="826.8" y2="531" stroke="#111" stroke-width="0.9" stroke-dasharray="2.2 1.3"/>
<line x1="826.8" y1="483.8" x2="815" y2="475.8" stroke="#000" stroke-width="0.9" />
<line x1="826.8" y1="531" x2="815" y2="540.6" stroke="#000" stroke-width="0.9" />
<line x1="838.6" y1="505.6" x2="838.6" y2="514.6" stroke="#000" stroke-width="2" />
<line x1="834" y1="509.2" x2="838.6" y2="509.2" stroke="#000" stroke-width="1.3" />
<path d="M771.4 536 V532.3 H793.4" fill="none" stroke="#000" stroke-width="0.9" />
<path d="M766.9 536.1 H775.9 L771.4 541 Z" fill="#fff" stroke="#000" stroke-width="1" />
<path d="M766.9 536.1 H771.4 V541 Z" fill="#000" stroke="#000" stroke-width="0.6" />
<text transform="translate(773.8 530.3) scale(1.15 1)" font-size="6.4" font-weight="bold" stroke="#000" stroke-width="0.22" >+0.60</text>
<text transform="translate(764.6 467.6)" font-size="7.3" font-weight="bold" stroke="#000" stroke-width="0.22" >Wohnen</text>
<text transform="translate(764.6 476.9)" font-size="7.3" font-weight="bold" stroke="#000" stroke-width="0.22" >Essen</text>
<text transform="translate(764.6 485.8)" font-size="7.3" font-weight="bold" stroke="#000" stroke-width="0.22" >Küche</text>
<line x1="793.8" y1="469" x2="798" y2="461.6" stroke="#000" stroke-width="1" />
<line x1="786.3" y1="478.4" x2="790.4" y2="471" stroke="#000" stroke-width="1" />
<text transform="translate(855.4 467.6)" font-size="7.3" font-weight="bold" stroke="#000" stroke-width="0.22" >Bad</text>
<text transform="translate(860.9 438.7)" font-size="5.3" fill="#222" >DN 2.00°</text>
<rect x="606.2" y="542.2" width="66.5" height="19.6" fill="#fff" stroke="none" stroke-width="0" />
<line x1="606.2" y1="542.4" x2="672.7" y2="542.4" stroke="#222" stroke-width="1.8" />
<line x1="606.4" y1="542" x2="606.4" y2="561.8" stroke="#111" stroke-width="1.2" />
<rect x="607.6" y="532.6" width="65.1" height="8.7" fill="#bcbcbc" stroke="none" stroke-width="0" />
<line x1="607.2" y1="531.8" x2="672.7" y2="531.8" stroke="#111" stroke-width="1.9" />
<path d="M608 531 V524.2 L609.4 522.6 L612.4 523.2 L613.2 519.4 Q613.4 517 615 517 Q616.8 517 617 519.4 L617.6 523 L620 523.4 L622 522 L624.4 523 L626.2 521.6 L628 522.6 L628.4 518.2 Q628.8 515.4 630.6 515.4 Q632.4 515.4 632.8 518.2 L633.2 522 L636 522.8 L639 522.2 L642 523 L644.4 522.2 L645.6 522.4 L646 518.4 Q646.4 515.6 648.2 515.6 Q650 515.6 650.4 518.4 L650.8 522 L654 522.6 L656.6 522 L658 523.6 L660.4 523.2 L661.4 523 L661.8 520.6 Q662 518.4 663.8 518.4 Q665.6 518.4 665.8 520.6 L666.2 523.4 L669 524.2 L671.4 523.8 L672.2 525 V531 Z" fill="#3f8a3c" stroke="none" stroke-width="0" />
<path d="M608 531 V527 L613 526 L618 527.2 L625 525.8 L633 527.4 L641 526 L649 527.2 L657 526.2 L665 527.4 L672.2 526.6 V531 Z" fill="#357a33" stroke="none" stroke-width="0" />
<path d="M587.8 561.8 V554.8 H596.8 V548.6 H606" fill="none" stroke="#111" stroke-width="1.7" />
<line x1="587.6" y1="554.6" x2="587.6" y2="523.8" stroke="#111" stroke-width="1" />
<line x1="589.4" y1="554.6" x2="589.4" y2="525" stroke="#111" stroke-width="1" />
<line x1="605.4" y1="541.6" x2="605.4" y2="511.4" stroke="#111" stroke-width="1" />
<line x1="607.6" y1="541.6" x2="607.6" y2="511.4" stroke="#111" stroke-width="1.1" />
<line x1="605" y1="511.5" x2="608" y2="511.5" stroke="#111" stroke-width="1" />
<line x1="587.4" y1="523.7" x2="605.6" y2="511.5" stroke="#111" stroke-width="1.05" />
<line x1="589.2" y1="525.1" x2="605.6" y2="514" stroke="#111" stroke-width="1.05" />
<line x1="587.4" y1="534.1" x2="605.6" y2="521.9" stroke="#111" stroke-width="1.05" />
<line x1="589.2" y1="535.5" x2="605.6" y2="524.4" stroke="#111" stroke-width="1.05" />
<line x1="587.4" y1="544.1" x2="605.6" y2="531.9" stroke="#111" stroke-width="1.05" />
<line x1="589.2" y1="545.5" x2="605.6" y2="534.4" stroke="#111" stroke-width="1.05" />
<line x1="511.3" y1="561.8" x2="1006.5" y2="561.8" stroke="#3a3a3a" stroke-width="1.7" />
<path d="M511.3 532.2 H533.3 V541.8" fill="none" stroke="#000" stroke-width="1" />
<text transform="translate(513.2 530.8) scale(1.15 1)" font-size="6.4" font-weight="bold" stroke="#000" stroke-width="0.22" >+0.60</text>
<path d="M528.7 536.2 H537.9 L533.3 541.8 Z" fill="#fff" stroke="#000" stroke-width="1" />
<path d="M528.7 536.2 H533.3 V541.8 Z" fill="#000" stroke="#000" stroke-width="0.6" />
<line x1="529.3" y1="541.8" x2="566.4" y2="541.8" stroke="#000" stroke-width="1" />
<text transform="translate(539.3 539.7) scale(1.075 1)" font-size="7.3" fill="#222" >OKFFB</text>
<path d="M511.3 552.2 H533.3 V561.8" fill="none" stroke="#000" stroke-width="1" />
<text transform="translate(513.2 551) scale(1.15 1)" font-size="6.4" font-weight="bold" stroke="#000" stroke-width="0.22" >±0.00</text>
<path d="M528.7 556.2 H537.9 L533.3 561.8 Z" fill="#fff" stroke="#000" stroke-width="1" />
<path d="M528.7 556.2 H533.3 V561.8 Z" fill="#000" stroke="#000" stroke-width="0.6" />
<text transform="translate(539.3 559.7) scale(1.075 1)" font-size="7.3" fill="#222" >OK Gelände</text>
<path d="M594 431.4 H616.5 V440.5" fill="none" stroke="#000" stroke-width="1" />
<text transform="translate(595.6 429.5) scale(1.15 1)" font-size="6.4" font-weight="bold" stroke="#000" stroke-width="0.22" >+3.60</text>
<path d="M611.9 434.9 H621.1 L616.5 440.5 Z" fill="#fff" stroke="#000" stroke-width="1" />
<path d="M611.9 434.9 H616.5 V440.5 Z" fill="#000" stroke="#000" stroke-width="0.6" />
<line x1="612.6" y1="440.6" x2="649.4" y2="440.6" stroke="#000" stroke-width="1" />
<text transform="translate(624.4 438.6) scale(1.075 1)" font-size="7.3" fill="#222" >Attika</text>
<circle cx="726.2" cy="635.5" r="5.9" fill="#25a585" stroke="#000" stroke-width="0"/>
<text transform="translate(742.2 639.8) scale(1.035 1)" font-size="16.1" fill="#111" >Ansicht A-A</text>
</g>
</svg>
</body></html>
